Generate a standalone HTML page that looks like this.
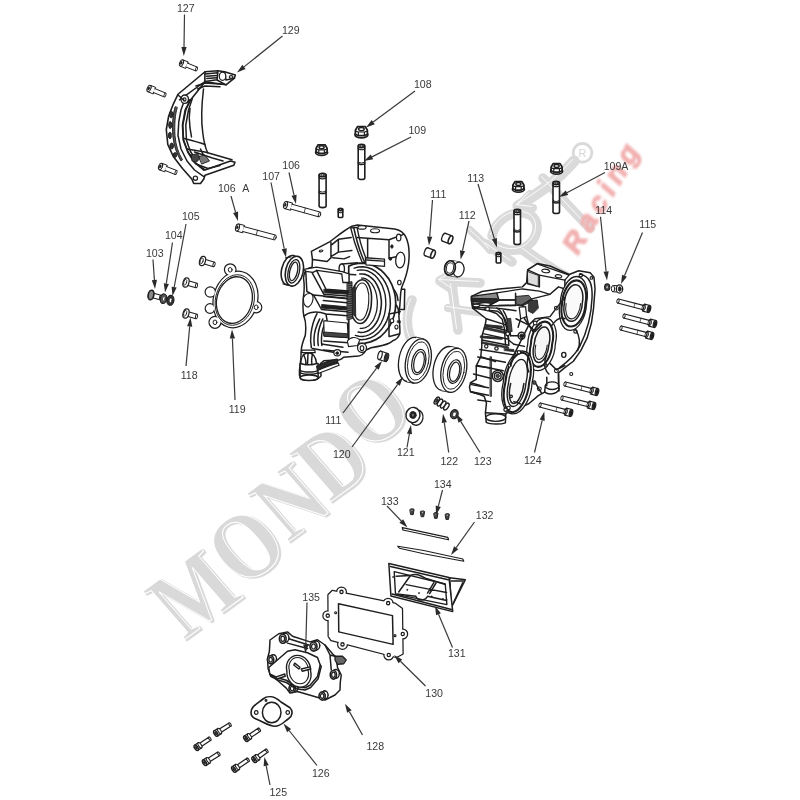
<!DOCTYPE html><html><head><meta charset="utf-8"><style>html,body{margin:0;padding:0;background:#fff;width:800px;height:800px;overflow:hidden}svg{display:block;will-change:transform;filter:blur(0.45px)}</style></head><body>
<svg width="800" height="800" viewBox="0 0 800 800" font-family="'Liberation Sans',sans-serif">
<rect width="800" height="800" fill="#fff"/>
<g font-family="'Liberation Serif',serif" font-weight="bold" font-size="98">
<g fill="#d9d9d9" stroke="#d9d9d9" stroke-width="2" stroke-linejoin="round"><text transform="matrix(0.6634,-0.4820,0.6561,0.7547,185.8,641.2)">M</text><text transform="matrix(0.6634,-0.4820,0.6561,0.7547,243.6,589.4)">O</text><text transform="matrix(0.6634,-0.4820,0.6561,0.7547,289.4,543.4)">N</text><text transform="matrix(0.6634,-0.4820,0.6561,0.7547,331.5,503.4)">D</text><text transform="matrix(0.6634,-0.4820,0.6561,0.7547,368.6,453.4)">O</text></g>
<g fill="none" stroke="#fff" stroke-width="1.1"><text transform="matrix(0.6634,-0.4820,0.6561,0.7547,183.8,640.2)">M</text><text transform="matrix(0.6634,-0.4820,0.6561,0.7547,241.6,588.4)">O</text><text transform="matrix(0.6634,-0.4820,0.6561,0.7547,287.4,542.4)">N</text><text transform="matrix(0.6634,-0.4820,0.6561,0.7547,329.5,502.4)">D</text><text transform="matrix(0.6634,-0.4820,0.6561,0.7547,366.6,452.4)">O</text></g>
</g><g fill="none" stroke-linecap="round" stroke-linejoin="round">
<g stroke="#dadada"><path d="M574,161 C566,170 556,180 545,188 C535,195 526,201 518,206" stroke-width="11.2"/><path d="M518,206 L530,194 M518,206 L533,208" stroke-width="8.0"/><path d="M543,178 C556,192 572,210 590,228" stroke-width="9.6"/><path d="M492,236 C496,218 516,208 530,215 C542,222 538,240 524,248 C515,252 505,250 498,246" stroke-width="9.6"/><path d="M524,250 C540,262 556,272 574,282" stroke-width="11.2"/><path d="M486,244 L512,262" stroke-width="9.6"/><path d="M440,281 L480,283 M440,281 L452,274 M440,281 L452,289" stroke-width="9.6"/><path d="M452,285 C454,300 456,315 458,330" stroke-width="9.6"/><path d="M448,308 L484,313" stroke-width="8.0"/><path d="M412,300 C404,318 406,338 420,352" stroke-width="9.6"/><path d="M470,230 C478,238 486,244 490,250" stroke-width="8.0"/></g><g stroke="#fff"><path d="M574,161 C566,170 556,180 545,188 C535,195 526,201 518,206" stroke-width="0.9" transform="translate(-1.5 -1.5)"/><path d="M518,206 L530,194 M518,206 L533,208" stroke-width="0.9" transform="translate(-1.5 -1.5)"/><path d="M543,178 C556,192 572,210 590,228" stroke-width="0.9" transform="translate(-1.5 -1.5)"/><path d="M492,236 C496,218 516,208 530,215 C542,222 538,240 524,248 C515,252 505,250 498,246" stroke-width="0.9" transform="translate(-1.5 -1.5)"/><path d="M524,250 C540,262 556,272 574,282" stroke-width="0.9" transform="translate(-1.5 -1.5)"/><path d="M486,244 L512,262" stroke-width="0.9" transform="translate(-1.5 -1.5)"/><path d="M440,281 L480,283 M440,281 L452,274 M440,281 L452,289" stroke-width="0.9" transform="translate(-1.5 -1.5)"/><path d="M452,285 C454,300 456,315 458,330" stroke-width="0.9" transform="translate(-1.5 -1.5)"/><path d="M448,308 L484,313" stroke-width="0.9" transform="translate(-1.5 -1.5)"/><path d="M412,300 C404,318 406,338 420,352" stroke-width="0.9" transform="translate(-1.5 -1.5)"/><path d="M470,230 C478,238 486,244 490,250" stroke-width="0.9" transform="translate(-1.5 -1.5)"/></g>
<circle cx="582.5" cy="152.8" r="9.3" stroke="#dadada" stroke-width="2.8"/>
<text x="582.5" y="157" font-family="'Liberation Sans',sans-serif" font-size="11" fill="#d6d6d6" text-anchor="middle">R</text>
</g>
<filter id="rb" x="-20%" y="-20%" width="140%" height="140%"><feGaussianBlur stdDeviation="0.9"/></filter><text filter="url(#rb)" stroke="#f2b0b0" stroke-width="1.2" transform="translate(577 257) rotate(-59) skewX(-10)" font-family="'Liberation Sans',sans-serif" font-weight="bold" font-size="29" fill="#f2b0b0" letter-spacing="5">Racing</text>
<g stroke-linejoin="round" stroke-linecap="round"><path d="M185.3 68.3L180.2 66.2A1.9 3.5 22 0 0 182.8 59.8L187.9 61.8Z" fill="#fff" stroke="#1e1e1e" stroke-width="1.0" /><ellipse cx="181.5" cy="63.0" rx="1.8" ry="3.3" fill="#fff" stroke="#1e1e1e" stroke-width="1.0" transform="rotate(21.80140948635181 181.5 63)"/><ellipse cx="181.2" cy="62.9" rx="0.8" ry="1.6" fill="#1e1e1e" stroke="#1e1e1e" stroke-width="0.6" transform="rotate(21.80140948635181 181.22145699273443 62.88858279709377)"/><path d="M185.8 67.0L195.7 70.9L197.3 67.1L187.4 63.1" fill="#fff" stroke="#1e1e1e" stroke-width="1.0" /><ellipse cx="196.5" cy="69.0" rx="0.9" ry="2.1" fill="#fff" stroke="#1e1e1e" stroke-width="0.9" transform="rotate(21.80140948635181 196.5 69)"/><path d="M152.8 93.8L147.7 91.7A1.9 3.5 22 0 0 150.3 85.3L155.4 87.3Z" fill="#fff" stroke="#1e1e1e" stroke-width="1.0" /><ellipse cx="149.0" cy="88.5" rx="1.8" ry="3.3" fill="#fff" stroke="#1e1e1e" stroke-width="1.0" transform="rotate(22.109448343751673 149 88.5)"/><ellipse cx="148.7" cy="88.4" rx="0.8" ry="1.6" fill="#1e1e1e" stroke="#1e1e1e" stroke-width="0.6" transform="rotate(22.109448343751673 148.72206002686332 88.38708688591322)"/><path d="M153.3 92.5L164.2 96.9L165.8 93.1L154.9 88.6" fill="#fff" stroke="#1e1e1e" stroke-width="1.0" /><ellipse cx="165.0" cy="95.0" rx="0.9" ry="2.1" fill="#fff" stroke="#1e1e1e" stroke-width="0.9" transform="rotate(22.109448343751673 165 95)"/><path d="M164.4 171.7L159.2 169.8A1.9 3.5 21 0 0 161.8 163.2L166.9 165.2Z" fill="#fff" stroke="#1e1e1e" stroke-width="1.0" /><ellipse cx="160.5" cy="166.5" rx="1.8" ry="3.3" fill="#fff" stroke="#1e1e1e" stroke-width="1.0" transform="rotate(21.161259816828277 160.5 166.5)"/><ellipse cx="160.2" cy="166.4" rx="0.8" ry="1.6" fill="#1e1e1e" stroke="#1e1e1e" stroke-width="0.6" transform="rotate(21.161259816828277 160.22022957051777 166.3917017692327)"/><path d="M164.9 170.4L175.2 174.5L176.8 170.5L166.4 166.5" fill="#fff" stroke="#1e1e1e" stroke-width="1.0" /><ellipse cx="176.0" cy="172.5" rx="0.9" ry="2.1" fill="#fff" stroke="#1e1e1e" stroke-width="0.9" transform="rotate(21.161259816828277 176 172.5)"/><ellipse cx="361.4" cy="134.7" rx="6.5" ry="3.2" fill="#fff" stroke="#1e1e1e" stroke-width="1.7"/><path d="M355.4 130.2L357.6 126.5L365.2 126.5L367.4 130.2L367.4 134.2L364.4 135.7L358.4 135.7L355.4 134.2Z" fill="#fff" stroke="#1e1e1e" stroke-width="1.7" /><path d="M355.4 131.2L358.4 132.0L364.4 132.0L367.4 131.2M358.4 132.0L358.4 135.7M364.4 132.0L364.4 135.7" fill="none" stroke="#1e1e1e" stroke-width="1.2" /><ellipse cx="361.4" cy="129.1" rx="2.8" ry="1.6" fill="#fff" stroke="#1e1e1e" stroke-width="1.4"/><ellipse cx="321.6" cy="152.4" rx="6.0" ry="3.0" fill="#fff" stroke="#1e1e1e" stroke-width="1.7"/><path d="M316.1 148.2L318.1 144.8L325.1 144.8L327.1 148.2L327.1 151.9L324.4 153.3L318.8 153.3L316.1 151.9Z" fill="#fff" stroke="#1e1e1e" stroke-width="1.7" /><path d="M316.1 149.1L318.8 149.9L324.4 149.9L327.1 149.1M318.8 149.9L318.8 153.3M324.4 149.9L324.4 153.3" fill="none" stroke="#1e1e1e" stroke-width="1.2" /><ellipse cx="321.6" cy="147.2" rx="2.6" ry="1.5" fill="#fff" stroke="#1e1e1e" stroke-width="1.4"/><ellipse cx="518.4" cy="189.2" rx="6.0" ry="3.0" fill="#fff" stroke="#1e1e1e" stroke-width="1.7"/><path d="M512.9 185.0L514.9 181.6L521.9 181.6L523.9 185.0L523.9 188.7L521.2 190.1L515.6 190.1L512.9 188.7Z" fill="#fff" stroke="#1e1e1e" stroke-width="1.7" /><path d="M512.9 185.9L515.6 186.7L521.2 186.7L523.9 185.9M515.6 186.7L515.6 190.1M521.2 186.7L521.2 190.1" fill="none" stroke="#1e1e1e" stroke-width="1.2" /><ellipse cx="518.4" cy="184.0" rx="2.6" ry="1.5" fill="#fff" stroke="#1e1e1e" stroke-width="1.4"/><ellipse cx="556.6" cy="171.2" rx="6.0" ry="3.0" fill="#fff" stroke="#1e1e1e" stroke-width="1.7"/><path d="M551.1 167.0L553.1 163.6L560.1 163.6L562.1 167.0L562.1 170.7L559.4 172.1L553.8 172.1L551.1 170.7Z" fill="#fff" stroke="#1e1e1e" stroke-width="1.7" /><path d="M551.1 167.9L553.8 168.7L559.4 168.7L562.1 167.9M553.8 168.7L553.8 172.1M559.4 168.7L559.4 172.1" fill="none" stroke="#1e1e1e" stroke-width="1.2" /><ellipse cx="556.6" cy="166.0" rx="2.6" ry="1.5" fill="#fff" stroke="#1e1e1e" stroke-width="1.4"/><path d="M358.2 146.0L358.2 178.0A3.2 1.5 0 0 0 364.8 178.0L364.8 146.0" fill="#fff" stroke="#1e1e1e" stroke-width="1.6" /><ellipse cx="361.5" cy="146.0" rx="3.2" ry="1.6" fill="#fff" stroke="#1e1e1e" stroke-width="1.6"/><ellipse cx="361.5" cy="146.0" rx="1.8" ry="0.8" fill="#fff" stroke="#1e1e1e" stroke-width="0.9"/><path d="M358.2 148.2A3.2 1.5 0 0 0 364.8 148.2" fill="none" stroke="#1e1e1e" stroke-width="1.2" /><path d="M358.2 163.0A3.2 1.5 0 0 0 364.8 163.0" fill="none" stroke="#1e1e1e" stroke-width="1.4" /><path d="M358.2 161.5A3.2 1.5 0 0 0 364.8 161.5" fill="none" stroke="#1e1e1e" stroke-width="1.0" /><path d="M319.1 175.0L319.1 206.0A3.5 1.6 0 0 0 326.1 206.0L326.1 175.0" fill="#fff" stroke="#1e1e1e" stroke-width="1.6" /><ellipse cx="322.6" cy="175.0" rx="3.5" ry="1.8" fill="#fff" stroke="#1e1e1e" stroke-width="1.6"/><ellipse cx="322.6" cy="175.0" rx="1.9" ry="0.9" fill="#fff" stroke="#1e1e1e" stroke-width="0.9"/><path d="M319.1 177.2A3.5 1.6 0 0 0 326.1 177.2" fill="none" stroke="#1e1e1e" stroke-width="1.2" /><path d="M319.1 192.0A3.5 1.6 0 0 0 326.1 192.0" fill="none" stroke="#1e1e1e" stroke-width="1.4" /><path d="M319.1 190.5A3.5 1.6 0 0 0 326.1 190.5" fill="none" stroke="#1e1e1e" stroke-width="1.0" /><path d="M514.0 211.0L514.0 243.0A3.2 1.5 0 0 0 520.5 243.0L520.5 211.0" fill="#fff" stroke="#1e1e1e" stroke-width="1.6" /><ellipse cx="517.3" cy="211.0" rx="3.2" ry="1.6" fill="#fff" stroke="#1e1e1e" stroke-width="1.6"/><ellipse cx="517.3" cy="211.0" rx="1.8" ry="0.8" fill="#fff" stroke="#1e1e1e" stroke-width="0.9"/><path d="M514.0 213.2A3.2 1.5 0 0 0 520.5 213.2" fill="none" stroke="#1e1e1e" stroke-width="1.2" /><path d="M514.0 230.5A3.2 1.5 0 0 0 520.5 230.5" fill="none" stroke="#1e1e1e" stroke-width="1.4" /><path d="M514.0 229.0A3.2 1.5 0 0 0 520.5 229.0" fill="none" stroke="#1e1e1e" stroke-width="1.0" /><path d="M553.0 183.0L553.0 212.0A3.2 1.5 0 0 0 559.5 212.0L559.5 183.0" fill="#fff" stroke="#1e1e1e" stroke-width="1.6" /><ellipse cx="556.2" cy="183.0" rx="3.2" ry="1.6" fill="#fff" stroke="#1e1e1e" stroke-width="1.6"/><ellipse cx="556.2" cy="183.0" rx="1.8" ry="0.8" fill="#fff" stroke="#1e1e1e" stroke-width="0.9"/><path d="M553.0 185.2A3.2 1.5 0 0 0 559.5 185.2" fill="none" stroke="#1e1e1e" stroke-width="1.2" /><path d="M553.0 201.5A3.2 1.5 0 0 0 559.5 201.5" fill="none" stroke="#1e1e1e" stroke-width="1.4" /><path d="M553.0 200.0A3.2 1.5 0 0 0 559.5 200.0" fill="none" stroke="#1e1e1e" stroke-width="1.0" /><path d="M338.2 209.5L338.2 216.5A2.2 1.0 0 0 0 342.8 216.5L342.8 209.5" fill="#fff" stroke="#1e1e1e" stroke-width="1.6" /><ellipse cx="340.5" cy="209.5" rx="2.2" ry="1.1" fill="#fff" stroke="#1e1e1e" stroke-width="1.6"/><ellipse cx="340.5" cy="209.5" rx="1.2" ry="0.6" fill="#fff" stroke="#1e1e1e" stroke-width="0.9"/><path d="M338.2 211.7A2.2 1.0 0 0 0 342.8 211.7" fill="none" stroke="#1e1e1e" stroke-width="1.2" /><path d="M496.2 253.5L496.2 262.0A2.2 1.0 0 0 0 500.8 262.0L500.8 253.5" fill="#fff" stroke="#1e1e1e" stroke-width="1.6" /><ellipse cx="498.5" cy="253.5" rx="2.2" ry="1.1" fill="#fff" stroke="#1e1e1e" stroke-width="1.6"/><ellipse cx="498.5" cy="253.5" rx="1.2" ry="0.6" fill="#fff" stroke="#1e1e1e" stroke-width="0.9"/><path d="M496.2 255.7A2.2 1.0 0 0 0 500.8 255.7" fill="none" stroke="#1e1e1e" stroke-width="1.2" /><path d="M290.3 210.2L284.5 208.6A2.1 3.8 16 0 0 286.5 201.4L292.3 203.0Z" fill="#fff" stroke="#1e1e1e" stroke-width="1.0" /><ellipse cx="285.5" cy="205.0" rx="1.9" ry="3.6" fill="#fff" stroke="#1e1e1e" stroke-width="1.0" transform="rotate(15.610988533679656 285.5 205)"/><ellipse cx="285.2" cy="204.9" rx="0.8" ry="1.7" fill="#1e1e1e" stroke="#1e1e1e" stroke-width="0.6" transform="rotate(15.610988533679656 285.21106670779915 204.9192686389439)"/><path d="M290.6 209.0L318.8 216.9L320.2 212.1L292.0 204.2" fill="#fff" stroke="#1e1e1e" stroke-width="1.0" /><ellipse cx="319.5" cy="214.5" rx="1.1" ry="2.5" fill="#fff" stroke="#1e1e1e" stroke-width="0.9" transform="rotate(15.610988533679656 319.5 214.5)"/><path d="M304.1 212.8L305.4 208.0" fill="none" stroke="#1e1e1e" stroke-width="0.8" /><path d="M242.3 232.7L236.5 231.1A2.1 3.8 15 0 0 238.5 223.9L244.3 225.4Z" fill="#fff" stroke="#1e1e1e" stroke-width="1.0" /><ellipse cx="237.5" cy="227.5" rx="1.9" ry="3.6" fill="#fff" stroke="#1e1e1e" stroke-width="1.0" transform="rotate(14.931417178137552 237.5 227.5)"/><ellipse cx="237.2" cy="227.4" rx="0.8" ry="1.7" fill="#1e1e1e" stroke="#1e1e1e" stroke-width="0.6" transform="rotate(14.931417178137552 237.21012951811963 227.4227012048319)"/><path d="M242.7 231.5L274.4 239.9L275.6 235.1L243.9 226.6" fill="#fff" stroke="#1e1e1e" stroke-width="1.0" /><ellipse cx="275.0" cy="237.5" rx="1.1" ry="2.5" fill="#fff" stroke="#1e1e1e" stroke-width="0.9" transform="rotate(14.931417178137552 275 237.5)"/><path d="M256.2 235.1L257.5 230.2" fill="none" stroke="#1e1e1e" stroke-width="0.8" /><ellipse cx="426.5" cy="251.8" rx="1.9" ry="4.2" fill="#fff" stroke="#1e1e1e" stroke-width="1.3" transform="rotate(-158.96248897457818 426.5 251.8)"/><path d="M434.5 250.4L428.0 247.9L425.0 255.7L431.5 258.2Z" fill="#fff" stroke="none"/><path d="M434.5 250.4L428.0 247.9M431.5 258.2L425.0 255.7" fill="none" stroke="#1e1e1e" stroke-width="1.3" /><ellipse cx="433.0" cy="254.3" rx="1.9" ry="4.2" fill="#fff" stroke="#1e1e1e" stroke-width="1.56" transform="rotate(-158.96248897457818 433 254.3)"/><ellipse cx="444.0" cy="237.3" rx="1.9" ry="4.2" fill="#fff" stroke="#1e1e1e" stroke-width="1.3" transform="rotate(-158.96248897457818 444 237.3)"/><path d="M452.0 235.9L445.5 233.4L442.5 241.2L449.0 243.7Z" fill="#fff" stroke="none"/><path d="M452.0 235.9L445.5 233.4M449.0 243.7L442.5 241.2" fill="none" stroke="#1e1e1e" stroke-width="1.3" /><ellipse cx="450.5" cy="239.8" rx="1.9" ry="4.2" fill="#fff" stroke="#1e1e1e" stroke-width="1.56" transform="rotate(-158.96248897457818 450.5 239.8)"/><path d="M150.4 297.2L159.9 299.7L161.1 295.3L151.6 292.8" fill="#fff" stroke="#1e1e1e" stroke-width="1.1" /><ellipse cx="160.5" cy="297.5" rx="1.0" ry="2.2" fill="#fff" stroke="#1e1e1e" stroke-width="1.0" transform="rotate(14.743562836470735 160.5 297.5)"/><ellipse cx="151.0" cy="295.0" rx="3.0" ry="5.0" fill="#fff" stroke="#1e1e1e" stroke-width="1.2" transform="rotate(14.743562836470735 151 295)"/><ellipse cx="150.2" cy="294.8" rx="1.5" ry="3.2" fill="none" stroke="#1e1e1e" stroke-width="0.8" transform="rotate(14.743562836470735 150.2263403701899 294.7964053605763)"/><ellipse cx="151.0" cy="295.0" rx="2.5" ry="4.5" fill="#888" stroke="#1e1e1e" stroke-width="1.0" transform="rotate(10 151 295)"/><ellipse cx="163.5" cy="298.7" rx="3.2" ry="4.8" fill="#555" stroke="#1e1e1e" stroke-width="1.2" transform="rotate(10 163.5 298.7)"/><ellipse cx="163.8" cy="298.7" rx="1.2" ry="2.2" fill="#fff" stroke="#1e1e1e" stroke-width="0.6" transform="rotate(10 163.8 298.7)"/><ellipse cx="170.4" cy="300.3" rx="3.5" ry="5.0" fill="#333" stroke="#1e1e1e" stroke-width="1.2" transform="rotate(10 170.4 300.3)"/><ellipse cx="170.6" cy="300.3" rx="1.4" ry="2.4" fill="#fff" stroke="#1e1e1e" stroke-width="0.6" transform="rotate(10 170.6 300.3)"/><path d="M201.8 263.2L213.3 266.7L214.7 262.3L203.2 258.8" fill="#fff" stroke="#1e1e1e" stroke-width="1.1" /><ellipse cx="214.0" cy="264.5" rx="1.0" ry="2.2" fill="#fff" stroke="#1e1e1e" stroke-width="1.0" transform="rotate(16.927513064147043 214 264.5)"/><ellipse cx="202.5" cy="261.0" rx="2.9" ry="4.8" fill="#fff" stroke="#1e1e1e" stroke-width="1.2" transform="rotate(16.927513064147043 202.5 261)"/><ellipse cx="201.7" cy="260.8" rx="1.4" ry="3.0" fill="none" stroke="#1e1e1e" stroke-width="0.8" transform="rotate(16.927513064147043 201.7346608956569 260.7670707073738)"/><path d="M185.4 284.7L195.9 287.7L197.1 283.3L186.6 280.3" fill="#fff" stroke="#1e1e1e" stroke-width="1.1" /><ellipse cx="196.5" cy="285.5" rx="1.0" ry="2.2" fill="#fff" stroke="#1e1e1e" stroke-width="1.0" transform="rotate(15.945395900922858 196.5 285.5)"/><ellipse cx="186.0" cy="282.5" rx="2.9" ry="4.8" fill="#fff" stroke="#1e1e1e" stroke-width="1.2" transform="rotate(15.945395900922858 186 282.5)"/><ellipse cx="185.2" cy="282.3" rx="1.4" ry="3.0" fill="none" stroke="#1e1e1e" stroke-width="0.8" transform="rotate(15.945395900922858 185.23078084188734 282.2802230976821)"/><path d="M185.4 315.7L195.9 318.7L197.1 314.3L186.6 311.3" fill="#fff" stroke="#1e1e1e" stroke-width="1.1" /><ellipse cx="196.5" cy="316.5" rx="1.0" ry="2.2" fill="#fff" stroke="#1e1e1e" stroke-width="1.0" transform="rotate(15.945395900922858 196.5 316.5)"/><ellipse cx="186.0" cy="313.5" rx="2.9" ry="4.8" fill="#fff" stroke="#1e1e1e" stroke-width="1.2" transform="rotate(15.945395900922858 186 313.5)"/><ellipse cx="185.2" cy="313.3" rx="1.4" ry="3.0" fill="none" stroke="#1e1e1e" stroke-width="0.8" transform="rotate(15.945395900922858 185.23078084188734 313.2802230976821)"/><g stroke="#1e1e1e" stroke-width="2.4" fill="#1e1e1e"><ellipse cx="235.5" cy="299.5" rx="21.5" ry="28" transform="rotate(14 235.5 299.5)"/><circle cx="230.2" cy="269.6" r="5.2"/><circle cx="256.2" cy="307.3" r="5"/><circle cx="215" cy="322.3" r="5.4"/><circle cx="210.3" cy="292" r="4.6"/><circle cx="210" cy="308.5" r="4.2"/></g><g stroke="none" fill="#fff"><ellipse cx="235.5" cy="299.5" rx="21.5" ry="28" transform="rotate(14 235.5 299.5)"/><circle cx="230.2" cy="269.6" r="5.2"/><circle cx="256.2" cy="307.3" r="5"/><circle cx="215" cy="322.3" r="5.4"/><circle cx="210.3" cy="292" r="4.6"/><circle cx="210" cy="308.5" r="4.2"/></g><ellipse cx="234.4" cy="300.1" rx="17.6" ry="23.6" fill="#fff" stroke="#1e1e1e" stroke-width="1.3" transform="rotate(14 234.4 300.1)"/><ellipse cx="234.8" cy="300.0" rx="19.3" ry="25.6" fill="none" stroke="#1e1e1e" stroke-width="0.9" transform="rotate(14 234.8 300.0)"/><ellipse cx="230.2" cy="269.8" rx="1.9" ry="2.3" fill="none" stroke="#1e1e1e" stroke-width="1.0"/><ellipse cx="256.2" cy="307.3" rx="1.9" ry="2.3" fill="none" stroke="#1e1e1e" stroke-width="1.0"/><ellipse cx="215.0" cy="322.3" rx="1.9" ry="2.3" fill="none" stroke="#1e1e1e" stroke-width="1.0"/><ellipse cx="290.2" cy="270.2" rx="8.6" ry="15.0" fill="#fff" stroke="#1e1e1e" stroke-width="1.6" transform="rotate(13 290.2 270.2)"/><ellipse cx="294.4" cy="271.2" rx="8.8" ry="15.2" fill="#fff" stroke="#1e1e1e" stroke-width="1.6" transform="rotate(13 294.4 271.2)"/><path d="M285.6,257.8 L290.5,256.8 M283,284 L289.5,285.5" fill="none" stroke="#1e1e1e" stroke-width="1.2" /><ellipse cx="293.8" cy="271.3" rx="5.6" ry="12.0" fill="#fff" stroke="#1e1e1e" stroke-width="1.3" transform="rotate(13 293.8 271.3)"/><ellipse cx="293.6" cy="271.4" rx="3.8" ry="9.4" fill="#fff" stroke="#1e1e1e" stroke-width="1.3" transform="rotate(13 293.6 271.4)"/><g transform="translate(290 215) scale(0.22502)"><path d="M95,162 L178,118 C205,98 240,68 275,50 L300,44 L465,62 C490,66 505,78 515,98 C528,125 532,170 527,215 C522,255 510,290 497,320 L492,345 C490,380 487,420 484,450 C486,480 490,500 488,525 C484,545 470,555 455,560 L440,570 C420,580 390,585 360,590 L338,600 C328,620 312,630 290,628 L238,632 C226,646 205,648 185,645 L150,648 L135,660 L138,715 C130,728 110,732 90,732 C65,732 45,725 42,712 L42,690 L48,640 L50,600 C52,575 60,555 68,535 C72,500 70,470 62,450 C55,420 57,390 60,360 C65,330 63,300 60,280 C62,260 68,245 80,238 L98,232 L100,198 Z" fill="#fff" stroke="#1e1e1e" stroke-width="1.4949999999999999" vector-effect="non-scaling-stroke"/><path d="M261,227 L285,218 L309,214 L334,215 L358,220 L381,230 L403,244 L422,263 L439,284 L452,308 L462,335 L468,363 L470,392 L468,421 L462,449 L452,476 L439,500 L422,521 L403,540 L381,554 L358,564 L334,569 L309,570 L285,566 L261,557 Z" fill="#fff" stroke="#1e1e1e" stroke-width="1.7249999999999999" vector-effect="non-scaling-stroke"/><path d="M285,236 L304,231 L324,230 L344,233 L363,240 L381,251 L397,265 L412,282 L424,301 L434,323 L441,347 L445,371 L446,396 L444,421 L439,445 L431,468 L420,489 L407,508 L392,524 L375,537 L356,547 L337,552 L317,554 L298,552 L278,546" fill="none" stroke="#1e1e1e" stroke-width="1.4949999999999999" vector-effect="non-scaling-stroke"/><path d="M299,246 L315,244 L331,245 L347,249 L362,257 L376,267 L389,281 L400,296 L410,314 L417,334 L423,355 L425,376 L426,398 L424,420 L420,442 L413,462 L405,480 L394,497 L382,511 L368,523 L353,532 L338,537 L322,540 L306,539 L290,535" fill="none" stroke="#1e1e1e" stroke-width="1.38" vector-effect="non-scaling-stroke"/><path d="M310,262 L323,262 L335,264 L347,269 L359,277 L369,286 L379,298 L387,312 L394,327 L400,344 L403,361 L406,379 L406,398 L404,416 L401,434 L396,451 L390,467 L382,481 L373,493 L363,504 L352,512 L340,518 L328,521 L315,522 L303,520" fill="none" stroke="#1e1e1e" stroke-width="1.6099999999999999" vector-effect="non-scaling-stroke"/><path d="M318,280 L327,281 L337,284 L345,289 L354,296 L362,304 L369,315 L375,326 L380,339 L384,353 L386,367 L388,382 L388,397 L387,412 L385,426 L381,440 L376,454 L371,466 L364,476 L357,485 L349,493 L340,498 L331,502 L321,504 L312,504" fill="none" stroke="#1e1e1e" stroke-width="1.265" vector-effect="non-scaling-stroke"/><path d="M270,385 a46,92 4 1,0 92,0 a46,92 4 1,0 -92,0" fill="#fff" stroke="#1e1e1e" stroke-width="1.6099999999999999" vector-effect="non-scaling-stroke"/><path d="M282,385 a34,78 4 1,0 68,0 a34,78 4 1,0 -68,0" fill="#fff" stroke="#1e1e1e" stroke-width="1.15" vector-effect="non-scaling-stroke"/><path d="M272,330 L290,318 L292,452 L276,440 Z" fill="#333" stroke="#1e1e1e" stroke-width="0.9199999999999999" vector-effect="non-scaling-stroke"/><path d="M255,300 L275,296 L278,460 L255,466 Z" fill="#666" stroke="#1e1e1e" stroke-width="0.9199999999999999" vector-effect="non-scaling-stroke"/><path d="M256,305 L276,302" fill="none" stroke="#1e1e1e" stroke-width="0.9199999999999999" vector-effect="non-scaling-stroke"/><path d="M256,315 L276,312" fill="none" stroke="#1e1e1e" stroke-width="0.9199999999999999" vector-effect="non-scaling-stroke"/><path d="M256,325 L276,322" fill="none" stroke="#1e1e1e" stroke-width="0.9199999999999999" vector-effect="non-scaling-stroke"/><path d="M256,335 L276,332" fill="none" stroke="#1e1e1e" stroke-width="0.9199999999999999" vector-effect="non-scaling-stroke"/><path d="M256,345 L276,342" fill="none" stroke="#1e1e1e" stroke-width="0.9199999999999999" vector-effect="non-scaling-stroke"/><path d="M256,355 L276,352" fill="none" stroke="#1e1e1e" stroke-width="0.9199999999999999" vector-effect="non-scaling-stroke"/><path d="M256,365 L276,362" fill="none" stroke="#1e1e1e" stroke-width="0.9199999999999999" vector-effect="non-scaling-stroke"/><path d="M256,375 L276,372" fill="none" stroke="#1e1e1e" stroke-width="0.9199999999999999" vector-effect="non-scaling-stroke"/><path d="M256,385 L276,382" fill="none" stroke="#1e1e1e" stroke-width="0.9199999999999999" vector-effect="non-scaling-stroke"/><path d="M256,395 L276,392" fill="none" stroke="#1e1e1e" stroke-width="0.9199999999999999" vector-effect="non-scaling-stroke"/><path d="M256,405 L276,402" fill="none" stroke="#1e1e1e" stroke-width="0.9199999999999999" vector-effect="non-scaling-stroke"/><path d="M256,415 L276,412" fill="none" stroke="#1e1e1e" stroke-width="0.9199999999999999" vector-effect="non-scaling-stroke"/><path d="M256,425 L276,422" fill="none" stroke="#1e1e1e" stroke-width="0.9199999999999999" vector-effect="non-scaling-stroke"/><path d="M256,435 L276,432" fill="none" stroke="#1e1e1e" stroke-width="0.9199999999999999" vector-effect="non-scaling-stroke"/><path d="M256,445 L276,442" fill="none" stroke="#1e1e1e" stroke-width="0.9199999999999999" vector-effect="non-scaling-stroke"/><path d="M256,455 L276,452" fill="none" stroke="#1e1e1e" stroke-width="0.9199999999999999" vector-effect="non-scaling-stroke"/><path d="M100,198 L165,207 L182,190" fill="none" stroke="#1e1e1e" stroke-width="1.4949999999999999" vector-effect="non-scaling-stroke"/><path d="M130,160 a8,4 -8 1,0 16,-1 a8,4 -8 1,0 -16,1" fill="#fff" stroke="#1e1e1e" stroke-width="1.15" vector-effect="non-scaling-stroke"/><path d="M182,122 L182,190 M182,135 L215,108 L272,100 M215,108 L215,165 L182,185 M215,165 L275,158" fill="none" stroke="#1e1e1e" stroke-width="1.4949999999999999" vector-effect="non-scaling-stroke"/><path d="M190,190 L240,195 L265,185" fill="none" stroke="#1e1e1e" stroke-width="1.4949999999999999" vector-effect="non-scaling-stroke"/><path d="M270,58 C282,110 298,160 322,212 L345,208 C322,160 308,110 298,55 Z" fill="#fff" stroke="#1e1e1e" stroke-width="1.38" vector-effect="non-scaling-stroke"/><path d="M284,60 C295,110 308,160 332,210" fill="none" stroke="#1e1e1e" stroke-width="1.4949999999999999" vector-effect="non-scaling-stroke"/><path d="M302,55 a18,8 0 1,0 36,0 a18,8 0 1,0 -36,0" fill="#fff" stroke="#1e1e1e" stroke-width="1.15" vector-effect="non-scaling-stroke"/><path d="M358,70 a20,9 0 1,0 40,0 a20,9 0 1,0 -40,0" fill="#fff" stroke="#1e1e1e" stroke-width="1.15" vector-effect="non-scaling-stroke"/><path d="M298,100 L440,110 L440,192 M440,110 L505,86 M440,192 L500,180 M345,105 L345,195" fill="none" stroke="#1e1e1e" stroke-width="1.4949999999999999" vector-effect="non-scaling-stroke"/><path d="M473,100 a10,15 0 1,0 20,0 a10,15 0 1,0 -20,0" fill="#fff" stroke="#1e1e1e" stroke-width="1.15" vector-effect="non-scaling-stroke"/><path d="M470,200 a20,33 5 1,0 40,0 a20,33 5 1,0 -40,0" fill="#fff" stroke="#1e1e1e" stroke-width="1.265" vector-effect="non-scaling-stroke"/><path d="M440,195 a6,6 0 1,0 12,0 a6,6 0 1,0 -12,0" fill="#1e1e1e" stroke="#1e1e1e" stroke-width="0.9199999999999999" vector-effect="non-scaling-stroke"/><path d="M448,140 a5,8 0 1,0 10,0 a5,8 0 1,0 -10,0" fill="#1e1e1e" stroke="#1e1e1e" stroke-width="0.9199999999999999" vector-effect="non-scaling-stroke"/><path d="M335,190 L420,196 L420,228 L338,222 Z" fill="#fff" stroke="#1e1e1e" stroke-width="1.265" vector-effect="non-scaling-stroke"/><path d="M340,200 L415,205" fill="none" stroke="#1e1e1e" stroke-width="1.4949999999999999" vector-effect="non-scaling-stroke"/><path d="M232,218 L300,212 M232,262 L292,266" fill="none" stroke="#1e1e1e" stroke-width="1.4949999999999999" vector-effect="non-scaling-stroke"/><path d="M218,240 a12,22 0 1,0 24,0 a12,22 0 1,0 -24,0" fill="#fff" stroke="#1e1e1e" stroke-width="1.38" vector-effect="non-scaling-stroke"/><path d="M62,242 L118,232 L232,252 L262,262 L262,300 L235,300 L230,262 L120,246 L102,255 L70,250 Z" fill="#fff" stroke="#1e1e1e" stroke-width="1.265" vector-effect="non-scaling-stroke"/><path d="M98,256 L150,352 L255,360 M118,246 L160,330 L262,338" fill="none" stroke="#1e1e1e" stroke-width="1.4949999999999999" vector-effect="non-scaling-stroke"/><path d="M70,250 L75,340 L105,356 L140,420 L255,430 M105,356 L250,370" fill="none" stroke="#1e1e1e" stroke-width="1.4949999999999999" vector-effect="non-scaling-stroke"/><path d="M152,330 L258,340 L258,352 L152,346 Z" fill="#1e1e1e" stroke="#1e1e1e" stroke-width="0.9199999999999999" vector-effect="non-scaling-stroke"/><path d="M142,398 L252,408 L252,422 L142,414 Z" fill="#1e1e1e" stroke="#1e1e1e" stroke-width="0.9199999999999999" vector-effect="non-scaling-stroke"/><path d="M150,362 L255,372 M148,380 L254,390" fill="none" stroke="#1e1e1e" stroke-width="1.4949999999999999" vector-effect="non-scaling-stroke"/><path d="M60,380 C55,360 75,345 95,350 C110,365 100,400 80,410 C65,405 60,395 60,380 Z" fill="#fff" stroke="#1e1e1e" stroke-width="1.15" vector-effect="non-scaling-stroke"/><path d="M62,450 C80,430 120,425 160,440 L255,448 M160,440 L165,470" fill="none" stroke="#1e1e1e" stroke-width="1.4949999999999999" vector-effect="non-scaling-stroke"/><path d="M120,438 C108,460 98,490 93,528 C90,555 92,575 95,590" fill="none" stroke="#1e1e1e" stroke-width="1.4949999999999999" vector-effect="non-scaling-stroke"/><path d="M132,462 C118,490 108,520 107,545 C106,560 107,570 108,580" fill="none" stroke="#1e1e1e" stroke-width="1.4949999999999999" vector-effect="non-scaling-stroke"/><path d="M146,462 C132,490 125,520 124,545 C123,560 124,570 126,580" fill="none" stroke="#1e1e1e" stroke-width="1.4949999999999999" vector-effect="non-scaling-stroke"/><path d="M160,470 C148,495 141,520 140,545 C139,560 140,570 142,580" fill="none" stroke="#1e1e1e" stroke-width="1.4949999999999999" vector-effect="non-scaling-stroke"/><path d="M150,498 L240,508 M150,528 L240,538 M140,573 L235,588 M100,593 L210,613" fill="none" stroke="#1e1e1e" stroke-width="1.4949999999999999" vector-effect="non-scaling-stroke"/><path d="M150,470 L255,480 L258,545 L152,538 Z" fill="#fff" stroke="#1e1e1e" stroke-width="1.15" vector-effect="non-scaling-stroke"/><path d="M150,520 L258,528 L258,545 L152,538 Z" fill="#444" stroke="#1e1e1e" stroke-width="0.9199999999999999" vector-effect="non-scaling-stroke"/><path d="M150,560 L260,568 L300,572 M150,600 L258,610" fill="none" stroke="#1e1e1e" stroke-width="1.4949999999999999" vector-effect="non-scaling-stroke"/><path d="M195,612 a15,14 0 1,0 30,0 a15,14 0 1,0 -30,0" fill="#fff" stroke="#1e1e1e" stroke-width="1.15" vector-effect="non-scaling-stroke"/><path d="M204,614 a6,6 0 1,0 12,0 a6,6 0 1,0 -12,0" fill="#1e1e1e" stroke="#1e1e1e" stroke-width="0.9199999999999999" vector-effect="non-scaling-stroke"/><path d="M300,590 a20,20 0 1,0 40,0 a20,20 0 1,0 -40,0" fill="#fff" stroke="#1e1e1e" stroke-width="1.265" vector-effect="non-scaling-stroke"/><path d="M312,592 a8,11 0 1,0 16,0 a8,11 0 1,0 -16,0" fill="#fff" stroke="#1e1e1e" stroke-width="1.15" vector-effect="non-scaling-stroke"/><path d="M255,560 C270,540 295,540 310,555 L300,580 L260,585 Z" fill="#fff" stroke="#1e1e1e" stroke-width="1.15" vector-effect="non-scaling-stroke"/><path d="M478,300 a8,10 0 1,0 16,0 a8,10 0 1,0 -16,0" fill="#fff" stroke="#1e1e1e" stroke-width="1.15" vector-effect="non-scaling-stroke"/><path d="M445,470 a8,9 0 1,0 16,0 a8,9 0 1,0 -16,0" fill="#fff" stroke="#1e1e1e" stroke-width="1.15" vector-effect="non-scaling-stroke"/><path d="M466,498 a7,9 0 1,0 14,0 a7,9 0 1,0 -14,0" fill="#fff" stroke="#1e1e1e" stroke-width="1.15" vector-effect="non-scaling-stroke"/><path d="M440,440 L490,430 M442,540 L488,528 M440,440 L440,540 M495,330 L510,330 L508,420 L492,420" fill="none" stroke="#1e1e1e" stroke-width="1.4949999999999999" vector-effect="non-scaling-stroke"/><path d="M478,470 L490,470 L490,480 L478,478 Z" fill="#1e1e1e" stroke="#1e1e1e" stroke-width="0.69" vector-effect="non-scaling-stroke"/><path d="M460,330 C470,340 478,360 480,380 M472,400 C480,410 484,420 484,440" fill="none" stroke="#1e1e1e" stroke-width="1.4949999999999999" vector-effect="non-scaling-stroke"/><path d="M45,660 L45,722 C45,740 125,740 125,722 L125,660 Z" fill="#fff" stroke="#1e1e1e" stroke-width="1.4949999999999999" vector-effect="non-scaling-stroke"/><path d="M85,723 m-40,0 a40,12 0 1,0 80,0 a40,12 0 1,0 -80,0" fill="#fff" stroke="#1e1e1e" stroke-width="1.38" vector-effect="non-scaling-stroke"/><path d="M45,690 C60,700 110,700 125,690 M45,700 C60,710 110,710 125,700" fill="none" stroke="#1e1e1e" stroke-width="1.4949999999999999" vector-effect="non-scaling-stroke"/><path d="M48,660 C48,630 60,615 80,612 C100,612 115,630 118,660 C100,668 65,668 48,660 Z" fill="#fff" stroke="#1e1e1e" stroke-width="1.4949999999999999" vector-effect="non-scaling-stroke"/><path d="M80,612 L78,664 M60,620 C70,640 72,655 70,665 M100,618 C95,640 95,655 98,665" fill="none" stroke="#1e1e1e" stroke-width="1.4949999999999999" vector-effect="non-scaling-stroke"/><path d="M50,612 L112,612 L110,600 L55,600 Z" fill="#fff" stroke="#1e1e1e" stroke-width="1.265" vector-effect="non-scaling-stroke"/><path d="M118,672 C150,655 180,645 210,640 L212,655 C185,662 150,675 122,690 Z" fill="#2a2a2a" stroke="#1e1e1e" stroke-width="1.15" vector-effect="non-scaling-stroke"/><path d="M125,690 C150,680 190,665 215,658 L218,668 C190,680 150,695 125,705 Z" fill="#fff" stroke="#1e1e1e" stroke-width="1.15" vector-effect="non-scaling-stroke"/></g><g transform="translate(465 255) scale(0.21249)"><path d="M30,195 L80,172 L160,160 L270,150 L290,130 L295,70 L340,40 L400,52 L490,92 L535,74 L590,84 L607,105 L612,160 L605,250 L595,320 L575,390 L545,450 L510,500 L470,530 L440,555 L442,635 C430,655 395,660 375,645 L345,662 L300,700 L250,722 L212,738 L192,745 L190,790 C170,798 120,798 100,788 L96,744 L101,696 L90,665 L64,654 L26,644 L21,622 L26,601 L53,585 L53,522 L74,479 L79,432 L80,380 L95,330 L100,300 L36,250 L30,215 Z" fill="#fff" stroke="#1e1e1e" stroke-width="1.4949999999999999" vector-effect="non-scaling-stroke"/><path d="M295,70 L340,42 L490,95 L470,118 L350,95 Z" fill="#fff" stroke="#1e1e1e" stroke-width="1.265" vector-effect="non-scaling-stroke"/><path d="M350,95 L350,150 M295,70 L295,135 L350,150 M470,118 L470,160" fill="none" stroke="#1e1e1e" stroke-width="1.4949999999999999" vector-effect="non-scaling-stroke"/><path d="M295,78 L345,96 L345,148 L297,133 Z" fill="#ddd" stroke="#1e1e1e" stroke-width="0.9199999999999999" vector-effect="non-scaling-stroke"/><path d="M362,75 a18,8 8 1,0 36,0 a18,8 8 1,0 -36,0" fill="#fff" stroke="#1e1e1e" stroke-width="1.15" vector-effect="non-scaling-stroke"/><path d="M425,100 a15,7 8 1,0 30,0 a15,7 8 1,0 -30,0" fill="#fff" stroke="#1e1e1e" stroke-width="1.15" vector-effect="non-scaling-stroke"/><path d="M30,195 L150,178 L160,212 L40,232 Z" fill="#8a8a8a" stroke="#1e1e1e" stroke-width="1.265" vector-effect="non-scaling-stroke"/><path d="M150,178 L270,160 L350,170 L400,185 L300,210 L160,212 Z" fill="#fff" stroke="#1e1e1e" stroke-width="1.265" vector-effect="non-scaling-stroke"/><path d="M240,195 L300,190 L320,215 L270,240 L240,230 Z" fill="#666" stroke="#1e1e1e" stroke-width="0.9199999999999999" vector-effect="non-scaling-stroke"/><path d="M40,232 L110,240 L160,212 M110,240 L270,235 L310,210 M36,246 L150,250 L240,262" fill="none" stroke="#1e1e1e" stroke-width="1.4949999999999999" vector-effect="non-scaling-stroke"/><path d="M150,250 C175,260 185,300 195,340 L205,400 L230,420 M180,262 C200,290 208,330 215,380" fill="none" stroke="#1e1e1e" stroke-width="1.4949999999999999" vector-effect="non-scaling-stroke"/><path d="M400,185 L440,150 L470,160 L480,140 M270,235 L280,300 L300,330" fill="none" stroke="#1e1e1e" stroke-width="1.4949999999999999" vector-effect="non-scaling-stroke"/><path d="M448,228 a62,112 10 1,0 124,0 a62,112 10 1,0 -124,0" fill="#fff" stroke="#1e1e1e" stroke-width="1.265" vector-effect="non-scaling-stroke"/><path d="M457,228 a55,96 10 1,0 110,0 a55,96 10 1,0 -110,0" fill="#fff" stroke="#1e1e1e" stroke-width="2.07" vector-effect="non-scaling-stroke"/><path d="M468,226 a42,76 10 1,0 84,0 a42,76 10 1,0 -84,0" fill="#fafafa" stroke="#1e1e1e" stroke-width="1.4949999999999999" vector-effect="non-scaling-stroke"/><path d="M476,228 a34,64 10 1,0 68,0" fill="none" stroke="#1e1e1e" stroke-width="1.035" vector-effect="non-scaling-stroke"/><path d="M295,420 a65,108 12 1,0 130,0 a65,108 12 1,0 -130,0" fill="#fff" stroke="#1e1e1e" stroke-width="1.265" vector-effect="non-scaling-stroke"/><path d="M310,420 a50,92 12 1,0 100,0 a50,92 12 1,0 -100,0" fill="#fff" stroke="#1e1e1e" stroke-width="2.07" vector-effect="non-scaling-stroke"/><path d="M325,422 a35,72 12 1,0 70,0 a35,72 12 1,0 -70,0" fill="#f6f6f6" stroke="#1e1e1e" stroke-width="1.4949999999999999" vector-effect="non-scaling-stroke"/><path d="M333,424 a27,58 12 1,0 54,0" fill="none" stroke="#1e1e1e" stroke-width="1.035" vector-effect="non-scaling-stroke"/><path d="M180,600 a68,128 12 1,0 136,0 a68,128 12 1,0 -136,0" fill="#fff" stroke="#1e1e1e" stroke-width="1.265" vector-effect="non-scaling-stroke"/><path d="M190,600 a56,120 12 1,0 112,0 a56,120 12 1,0 -112,0" fill="#fff" stroke="#1e1e1e" stroke-width="2.07" vector-effect="non-scaling-stroke"/><path d="M205,602 a41,95 12 1,0 82,0 a41,95 12 1,0 -82,0" fill="#fafafa" stroke="#1e1e1e" stroke-width="1.38" vector-effect="non-scaling-stroke"/><path d="M215,605 a31,80 12 1,0 62,0" fill="none" stroke="#1e1e1e" stroke-width="1.4949999999999999" vector-effect="non-scaling-stroke"/><path d="M321,320 a9,9 0 1,0 18,0 a9,9 0 1,0 -18,0" fill="#fff" stroke="#1e1e1e" stroke-width="1.15" vector-effect="non-scaling-stroke"/><path d="M421,250 a9,9 0 1,0 18,0 a9,9 0 1,0 -18,0" fill="#fff" stroke="#1e1e1e" stroke-width="1.15" vector-effect="non-scaling-stroke"/><path d="M512,360 a8,8 0 1,0 16,0 a8,8 0 1,0 -16,0" fill="#fff" stroke="#1e1e1e" stroke-width="1.15" vector-effect="non-scaling-stroke"/><path d="M421,545 a9,9 0 1,0 18,0 a9,9 0 1,0 -18,0" fill="#fff" stroke="#1e1e1e" stroke-width="1.15" vector-effect="non-scaling-stroke"/><path d="M341,630 a9,9 0 1,0 18,0 a9,9 0 1,0 -18,0" fill="#fff" stroke="#1e1e1e" stroke-width="1.15" vector-effect="non-scaling-stroke"/><path d="M197,720 a8,8 0 1,0 16,0 a8,8 0 1,0 -16,0" fill="#fff" stroke="#1e1e1e" stroke-width="1.15" vector-effect="non-scaling-stroke"/><path d="M92,430 a8,8 0 1,0 16,0 a8,8 0 1,0 -16,0" fill="#fff" stroke="#1e1e1e" stroke-width="1.15" vector-effect="non-scaling-stroke"/><path d="M237,460 a8,8 0 1,0 16,0 a8,8 0 1,0 -16,0" fill="#fff" stroke="#1e1e1e" stroke-width="1.15" vector-effect="non-scaling-stroke"/><path d="M537,95 a8,8 0 1,0 16,0 a8,8 0 1,0 -16,0" fill="#fff" stroke="#1e1e1e" stroke-width="1.15" vector-effect="non-scaling-stroke"/><path d="M589,108 a6,6 0 1,0 12,0 a6,6 0 1,0 -12,0" fill="#fff" stroke="#1e1e1e" stroke-width="1.15" vector-effect="non-scaling-stroke"/><path d="M203,520 a7,7 0 1,0 14,0 a7,7 0 1,0 -14,0" fill="#fff" stroke="#1e1e1e" stroke-width="1.15" vector-effect="non-scaling-stroke"/><path d="M493,560 a7,7 0 1,0 14,0 a7,7 0 1,0 -14,0" fill="#fff" stroke="#1e1e1e" stroke-width="1.15" vector-effect="non-scaling-stroke"/><path d="M250,380 a16,16 0 1,0 32,0 a16,16 0 1,0 -32,0" fill="#fff" stroke="#1e1e1e" stroke-width="1.4949999999999999" vector-effect="non-scaling-stroke"/><path d="M258,381 a8,9 0 1,0 16,0 a8,9 0 1,0 -16,0" fill="#1e1e1e" stroke="#1e1e1e" stroke-width="0.9199999999999999" vector-effect="non-scaling-stroke"/><path d="M100,300 L195,330 M95,330 L195,355 M85,370 L200,395 M80,400 L205,425 M70,445 L230,470 M60,480 L190,505 M58,520 L180,545" fill="none" stroke="#1e1e1e" stroke-width="1.4949999999999999" vector-effect="non-scaling-stroke"/><path d="M92,338 L196,362 L198,372 L90,348 Z" fill="#333" stroke="#1e1e1e" stroke-width="0.69" vector-effect="non-scaling-stroke"/><path d="M80,408 L204,432 L206,440 L80,416 Z" fill="#333" stroke="#1e1e1e" stroke-width="0.69" vector-effect="non-scaling-stroke"/><path d="M40,560 L120,580 M30,610 L110,625 M35,645 L110,660 M60,682 L120,690" fill="none" stroke="#1e1e1e" stroke-width="1.4949999999999999" vector-effect="non-scaling-stroke"/><path d="M98,765 a47,18 0 1,0 94,0 a47,18 0 1,0 -94,0" fill="#fff" stroke="#1e1e1e" stroke-width="1.38" vector-effect="non-scaling-stroke"/><path d="M98,742 L192,748" fill="none" stroke="#1e1e1e" stroke-width="1.4949999999999999" vector-effect="non-scaling-stroke"/><path d="M378,615 a32,18 0 1,0 64,0 a32,18 0 1,0 -64,0" fill="#fff" stroke="#1e1e1e" stroke-width="1.265" vector-effect="non-scaling-stroke"/><path d="M378,615 L375,645 M442,615 L442,640 M385,575 L385,615 M440,560 L440,615" fill="none" stroke="#1e1e1e" stroke-width="1.4949999999999999" vector-effect="non-scaling-stroke"/><path d="M540,90 C590,100 600,140 598,200 C595,280 575,360 540,430 C515,475 480,505 445,530" fill="none" stroke="#1e1e1e" stroke-width="1.4949999999999999" vector-effect="non-scaling-stroke"/><path d="M300,330 L330,300 L400,290 L430,250 L470,200 M300,330 L250,430 L230,470 L215,520" fill="none" stroke="#1e1e1e" stroke-width="1.4949999999999999" vector-effect="non-scaling-stroke"/><path d="M400,510 L430,540 L470,520 M360,650 L330,600 M230,690 L260,700" fill="none" stroke="#1e1e1e" stroke-width="1.4949999999999999" vector-effect="non-scaling-stroke"/><path d="M29,204 L32,217 L127,228 L154,217 L150,206 Z" fill="#2a2a2a" stroke="#1e1e1e" stroke-width="1.15" vector-effect="non-scaling-stroke"/><path d="M34,228 L37,249 L95,259 L154,265 L175,281 L191,307 L201,344 L204,371 L206,424" fill="none" stroke="#1e1e1e" stroke-width="1.4949999999999999" vector-effect="non-scaling-stroke"/><path d="M90,254 L148,275 L175,302 L185,344 L191,424" fill="none" stroke="#1e1e1e" stroke-width="1.4949999999999999" vector-effect="non-scaling-stroke"/><path d="M37,238 a16,6 0 1,0 32,0 a16,6 0 1,0 -32,0" fill="#fff" stroke="#1e1e1e" stroke-width="1.15" vector-effect="non-scaling-stroke"/><path d="M97,254 a9,9 0 1,0 18,0 a9,9 0 1,0 -18,0" fill="#fff" stroke="#1e1e1e" stroke-width="1.15" vector-effect="non-scaling-stroke"/><path d="M100,328 L175,335 L175,344 L100,338 Z" fill="#333" stroke="#1e1e1e" stroke-width="0.9199999999999999" vector-effect="non-scaling-stroke"/><path d="M74,381 L175,390 L175,397 L74,389 Z" fill="#333" stroke="#1e1e1e" stroke-width="0.9199999999999999" vector-effect="non-scaling-stroke"/><path d="M74,479 L143,501 M53,522 L122,532 M26,601 L64,612 L90,620 M26,644 L64,654" fill="none" stroke="#1e1e1e" stroke-width="1.4949999999999999" vector-effect="non-scaling-stroke"/><path d="M119,479 L125,479 L125,665 L119,665 Z" fill="#2a2a2a" stroke="#1e1e1e" stroke-width="0.69" vector-effect="non-scaling-stroke"/><path d="M128,569 a26,26 0 1,0 52,0 a26,26 0 1,0 -52,0" fill="#fff" stroke="#1e1e1e" stroke-width="1.4949999999999999" vector-effect="non-scaling-stroke"/><path d="M138,569 a16,16 0 1,0 32,0 a16,16 0 1,0 -32,0" fill="#fff" stroke="#1e1e1e" stroke-width="1.38" vector-effect="non-scaling-stroke"/><path d="M146,569 a8,8 0 1,0 16,0 a8,8 0 1,0 -16,0" fill="#555" stroke="#1e1e1e" stroke-width="0.9199999999999999" vector-effect="non-scaling-stroke"/><path d="M140,440 a8,8 0 1,0 16,0 a8,8 0 1,0 -16,0" fill="#fff" stroke="#1e1e1e" stroke-width="1.265" vector-effect="non-scaling-stroke"/><path d="M246,458 a8,8 0 1,0 16,0 a8,8 0 1,0 -16,0" fill="#fff" stroke="#1e1e1e" stroke-width="1.265" vector-effect="non-scaling-stroke"/><path d="M183,728 a8,8 0 1,0 16,0 a8,8 0 1,0 -16,0" fill="#fff" stroke="#1e1e1e" stroke-width="1.265" vector-effect="non-scaling-stroke"/><path d="M211,665 a6,6 0 1,0 12,0 a6,6 0 1,0 -12,0" fill="#fff" stroke="#1e1e1e" stroke-width="1.265" vector-effect="non-scaling-stroke"/><path d="M192,371 a9,9 0 1,0 18,0 a9,9 0 1,0 -18,0" fill="#fff" stroke="#1e1e1e" stroke-width="1.265" vector-effect="non-scaling-stroke"/><path d="M159,212 L238,212 L238,238 L159,238 M238,212 L238,180 M300,330 L330,360 L360,330 M240,300 L300,330" fill="none" stroke="#1e1e1e" stroke-width="1.4949999999999999" vector-effect="non-scaling-stroke"/><path d="M300,215 L340,212 L345,250 L320,275 L300,265 Z" fill="#3a3a3a" stroke="#1e1e1e" stroke-width="0.9199999999999999" vector-effect="non-scaling-stroke"/><path d="M255,245 L285,243 L290,290 L262,300 Z" fill="#fff" stroke="#1e1e1e" stroke-width="1.265" vector-effect="non-scaling-stroke"/><path d="M262,300 L250,340 M290,290 L300,330 M215,380 L250,380 M300,330 L320,360 M230,420 L280,430" fill="none" stroke="#1e1e1e" stroke-width="1.4949999999999999" vector-effect="non-scaling-stroke"/><path d="M200,300 L215,298 L222,360 L206,362 Z" fill="#444" stroke="#1e1e1e" stroke-width="0.8049999999999999" vector-effect="non-scaling-stroke"/><path d="M185,440 L230,445 L232,455 L186,450 Z" fill="#333" stroke="#1e1e1e" stroke-width="0.69" vector-effect="non-scaling-stroke"/><path d="M385,470 C370,500 372,540 395,560 M300,470 C290,500 292,530 300,550" fill="none" stroke="#1e1e1e" stroke-width="1.4949999999999999" vector-effect="non-scaling-stroke"/><path d="M410,330 C430,300 450,290 470,300 M520,350 C540,380 545,420 530,450" fill="none" stroke="#1e1e1e" stroke-width="1.4949999999999999" vector-effect="non-scaling-stroke"/><path d="M455,470 a10,12 0 1,0 20,0 a10,12 0 1,0 -20,0" fill="#fff" stroke="#1e1e1e" stroke-width="1.38" vector-effect="non-scaling-stroke"/><path d="M372,520 a8,9 0 1,0 16,0 a8,9 0 1,0 -16,0" fill="#555" stroke="#1e1e1e" stroke-width="0.9199999999999999" vector-effect="non-scaling-stroke"/><path d="M318,600 a8,9 0 1,0 16,0 a8,9 0 1,0 -16,0" fill="#555" stroke="#1e1e1e" stroke-width="0.9199999999999999" vector-effect="non-scaling-stroke"/></g><ellipse cx="411.5" cy="359.5" rx="12.5" ry="22.5" fill="#fff" stroke="#1e1e1e" stroke-width="1.3" transform="rotate(12 411.5 359.5)"/><path d="M416.2 337.5L423.0 339.0M406.8 381.5L413.6 383.0" fill="none" stroke="#1e1e1e" stroke-width="1.3" /><path d="M416.2 337.5L423.0 339.0L413.6 383.0L406.8 381.5Z" fill="#fff" stroke="none"/><ellipse cx="418.3" cy="361.0" rx="12.5" ry="22.5" fill="#fff" stroke="#1e1e1e" stroke-width="1.3" transform="rotate(12 418.3 361)"/><ellipse cx="418.3" cy="361.0" rx="10.3" ry="19.5" fill="none" stroke="#1e1e1e" stroke-width="0.9" transform="rotate(12 418.3 361)"/><ellipse cx="418.8" cy="362.0" rx="6.8" ry="12.8" fill="#fff" stroke="#1e1e1e" stroke-width="1.2" transform="rotate(12 418.8 362)"/><ellipse cx="419.0" cy="362.2" rx="5.0" ry="10.6" fill="#fff" stroke="#1e1e1e" stroke-width="1.2" transform="rotate(12 419.0 362.2)"/><ellipse cx="446.0" cy="368.5" rx="12.5" ry="22.3" fill="#fff" stroke="#1e1e1e" stroke-width="1.3" transform="rotate(12 446 368.5)"/><path d="M450.6 346.7L458.4 348.5M441.4 390.3L449.2 392.1" fill="none" stroke="#1e1e1e" stroke-width="1.3" /><path d="M450.6 346.7L458.4 348.5L449.2 392.1L441.4 390.3Z" fill="#fff" stroke="none"/><ellipse cx="453.8" cy="370.3" rx="12.5" ry="22.3" fill="#fff" stroke="#1e1e1e" stroke-width="1.3" transform="rotate(12 453.8 370.3)"/><ellipse cx="453.8" cy="370.3" rx="10.3" ry="19.3" fill="none" stroke="#1e1e1e" stroke-width="0.9" transform="rotate(12 453.8 370.3)"/><ellipse cx="454.4" cy="371.6" rx="6.6" ry="12.0" fill="#fff" stroke="#1e1e1e" stroke-width="1.2" transform="rotate(12 454.4 371.6)"/><ellipse cx="454.6" cy="371.8" rx="4.8" ry="9.8" fill="#fff" stroke="#1e1e1e" stroke-width="1.2" transform="rotate(12 454.6 371.8)"/><path d="M380.5,351 L386.5,353 L386,361.8 L379.5,359.8 Z" fill="#fff" stroke="#1e1e1e" stroke-width="1.1" /><ellipse cx="386.5" cy="357.4" rx="2.0" ry="4.3" fill="#333" stroke="#1e1e1e" stroke-width="1.0" transform="rotate(15 386.5 357.4)"/><ellipse cx="380.0" cy="355.4" rx="2.0" ry="4.3" fill="#fff" stroke="#1e1e1e" stroke-width="1.2" transform="rotate(15 380 355.4)"/><ellipse cx="416.5" cy="417.5" rx="6.5" ry="7.8" fill="#fff" stroke="#1e1e1e" stroke-width="1.3" transform="rotate(10 416.5 417.5)"/><ellipse cx="413.0" cy="415.0" rx="7.0" ry="7.6" fill="#fff" stroke="#1e1e1e" stroke-width="1.4" transform="rotate(10 413 415)"/><ellipse cx="413.0" cy="415.0" rx="3.2" ry="3.5" fill="#222" stroke="#1e1e1e" stroke-width="0.8" transform="rotate(10 413 415)"/><ellipse cx="413.0" cy="415.0" rx="1.3" ry="1.5" fill="#777" stroke="#1e1e1e" stroke-width="0.3"/><ellipse cx="436.8" cy="400.6" rx="1.9" ry="3.9" fill="#fff" stroke="#1e1e1e" stroke-width="1.4" transform="rotate(33 436.8 400.6)"/><ellipse cx="440.0" cy="402.6" rx="1.9" ry="3.9" fill="#fff" stroke="#1e1e1e" stroke-width="1.4" transform="rotate(33 440 402.6)"/><ellipse cx="443.2" cy="404.6" rx="1.9" ry="3.9" fill="#fff" stroke="#1e1e1e" stroke-width="1.4" transform="rotate(33 443.2 404.6)"/><ellipse cx="446.4" cy="406.6" rx="1.9" ry="3.9" fill="#fff" stroke="#1e1e1e" stroke-width="1.4" transform="rotate(33 446.4 406.6)"/><ellipse cx="436.8" cy="400.6" rx="1.0" ry="2.2" fill="#333" stroke="#1e1e1e" stroke-width="0.6" transform="rotate(33 436.8 400.6)"/><ellipse cx="454.3" cy="414.2" rx="3.8" ry="4.6" fill="#444" stroke="#1e1e1e" stroke-width="1.2" transform="rotate(20 454.3 414.2)"/><ellipse cx="454.5" cy="414.3" rx="1.8" ry="2.4" fill="#fff" stroke="#1e1e1e" stroke-width="0.6" transform="rotate(20 454.5 414.3)"/><ellipse cx="450.0" cy="268.0" rx="5.5" ry="7.5" fill="#fff" stroke="#1e1e1e" stroke-width="1.3" transform="rotate(10 450 268)"/><path d="M451.3 260.6L459.8 262.1M448.7 275.4L457.2 276.9" fill="none" stroke="#1e1e1e" stroke-width="1.3" /><path d="M451.3 260.6L459.8 262.1L457.2 276.9L448.7 275.4Z" fill="#fff" stroke="none"/><ellipse cx="458.5" cy="269.5" rx="5.5" ry="7.5" fill="#fff" stroke="#1e1e1e" stroke-width="1.3" transform="rotate(10 458.5 269.5)"/><ellipse cx="450.0" cy="268.0" rx="5.3" ry="7.3" fill="#fff" stroke="#1e1e1e" stroke-width="1.7" transform="rotate(10 450 268)"/><ellipse cx="450.0" cy="268.0" rx="3.6" ry="5.2" fill="#fff" stroke="#1e1e1e" stroke-width="1.0" transform="rotate(10 450 268)"/><ellipse cx="607.2" cy="287.2" rx="2.6" ry="3.3" fill="#444" stroke="#1e1e1e" stroke-width="1.1"/><ellipse cx="607.2" cy="287.2" rx="1.0" ry="1.4" fill="#fff" stroke="#1e1e1e" stroke-width="0.5"/><path d="M613,285.5 L618.5,285.8 L618.5,292 L613,291.8" fill="#fff" stroke="#1e1e1e" stroke-width="1.1" /><ellipse cx="613.0" cy="288.7" rx="1.6" ry="3.1" fill="#fff" stroke="#1e1e1e" stroke-width="1.0"/><ellipse cx="619.5" cy="289.0" rx="3.2" ry="4.2" fill="#fff" stroke="#1e1e1e" stroke-width="1.3"/><ellipse cx="619.7" cy="289.0" rx="1.6" ry="2.4" fill="#222" stroke="#1e1e1e" stroke-width="0.5"/><path d="M617.5 303.0L643.1 309.7M618.5 299.0L644.2 305.6" fill="none" stroke="#1e1e1e" stroke-width="1.1" /><ellipse cx="618.0" cy="301.0" rx="1.1" ry="2.1" fill="#fff" stroke="#1e1e1e" stroke-width="1.0" transform="rotate(14.470294100065887 618 301)"/><path d="M642.8 311.1L648.1 312.5L649.9 305.5L644.6 304.1Z" fill="#fff" stroke="#1e1e1e" stroke-width="1.2" /><ellipse cx="649.0" cy="309.0" rx="1.6" ry="3.6" fill="#333" stroke="#1e1e1e" stroke-width="1.2" transform="rotate(14.470294100065887 649 309)"/><ellipse cx="649.3" cy="309.1" rx="0.7" ry="1.6" fill="#111" stroke="#1e1e1e" stroke-width="0.5" transform="rotate(14.470294100065887 649.2904831971128 309.0749634057065)"/><ellipse cx="643.7" cy="307.6" rx="1.6" ry="3.6" fill="none" stroke="#1e1e1e" stroke-width="0.8" transform="rotate(14.470294100065887 643.6744747195985 307.62567089538027)"/><path d="M633.9 307.3L635.0 303.2" fill="none" stroke="#1e1e1e" stroke-width="0.7" /><path d="M623.5 318.0L649.1 324.7M624.5 314.0L650.2 320.6" fill="none" stroke="#1e1e1e" stroke-width="1.1" /><ellipse cx="624.0" cy="316.0" rx="1.1" ry="2.1" fill="#fff" stroke="#1e1e1e" stroke-width="1.0" transform="rotate(14.470294100065887 624 316)"/><path d="M648.8 326.1L654.1 327.5L655.9 320.5L650.6 319.1Z" fill="#fff" stroke="#1e1e1e" stroke-width="1.2" /><ellipse cx="655.0" cy="324.0" rx="1.6" ry="3.6" fill="#333" stroke="#1e1e1e" stroke-width="1.2" transform="rotate(14.470294100065887 655 324)"/><ellipse cx="655.3" cy="324.1" rx="0.7" ry="1.6" fill="#111" stroke="#1e1e1e" stroke-width="0.5" transform="rotate(14.470294100065887 655.2904831971128 324.0749634057065)"/><ellipse cx="649.7" cy="322.6" rx="1.6" ry="3.6" fill="none" stroke="#1e1e1e" stroke-width="0.8" transform="rotate(14.470294100065887 649.6744747195985 322.62567089538027)"/><path d="M639.9 322.3L641.0 318.2" fill="none" stroke="#1e1e1e" stroke-width="0.7" /><path d="M620.5 330.0L646.1 336.7M621.5 326.0L647.2 332.6" fill="none" stroke="#1e1e1e" stroke-width="1.1" /><ellipse cx="621.0" cy="328.0" rx="1.1" ry="2.1" fill="#fff" stroke="#1e1e1e" stroke-width="1.0" transform="rotate(14.470294100065887 621 328)"/><path d="M645.8 338.1L651.1 339.5L652.9 332.5L647.6 331.1Z" fill="#fff" stroke="#1e1e1e" stroke-width="1.2" /><ellipse cx="652.0" cy="336.0" rx="1.6" ry="3.6" fill="#333" stroke="#1e1e1e" stroke-width="1.2" transform="rotate(14.470294100065887 652 336)"/><ellipse cx="652.3" cy="336.1" rx="0.7" ry="1.6" fill="#111" stroke="#1e1e1e" stroke-width="0.5" transform="rotate(14.470294100065887 652.2904831971128 336.0749634057065)"/><ellipse cx="646.7" cy="334.6" rx="1.6" ry="3.6" fill="none" stroke="#1e1e1e" stroke-width="0.8" transform="rotate(14.470294100065887 646.6744747195985 334.62567089538027)"/><path d="M636.9 334.3L638.0 330.2" fill="none" stroke="#1e1e1e" stroke-width="0.7" /><path d="M564.5 386.0L591.2 392.7M565.5 382.0L592.2 388.6" fill="none" stroke="#1e1e1e" stroke-width="1.1" /><ellipse cx="565.0" cy="384.0" rx="1.1" ry="2.1" fill="#fff" stroke="#1e1e1e" stroke-width="1.0" transform="rotate(14.036243467926479 565 384)"/><path d="M590.8 394.2L596.1 395.5L597.9 388.5L592.5 387.2Z" fill="#fff" stroke="#1e1e1e" stroke-width="1.2" /><ellipse cx="597.0" cy="392.0" rx="1.6" ry="3.6" fill="#333" stroke="#1e1e1e" stroke-width="1.2" transform="rotate(14.036243467926479 597 392)"/><ellipse cx="597.3" cy="392.1" rx="0.7" ry="1.6" fill="#111" stroke="#1e1e1e" stroke-width="0.5" transform="rotate(14.036243467926479 597.2910427500436 392.0727606875109)"/><ellipse cx="591.7" cy="390.7" rx="1.6" ry="3.6" fill="none" stroke="#1e1e1e" stroke-width="0.8" transform="rotate(14.036243467926479 591.6642162492006 390.6660540623002)"/><path d="M581.0 390.2L582.0 386.1" fill="none" stroke="#1e1e1e" stroke-width="0.7" /><path d="M561.5 400.0L588.2 406.7M562.5 396.0L589.2 402.6" fill="none" stroke="#1e1e1e" stroke-width="1.1" /><ellipse cx="562.0" cy="398.0" rx="1.1" ry="2.1" fill="#fff" stroke="#1e1e1e" stroke-width="1.0" transform="rotate(14.036243467926479 562 398)"/><path d="M587.8 408.2L593.1 409.5L594.9 402.5L589.5 401.2Z" fill="#fff" stroke="#1e1e1e" stroke-width="1.2" /><ellipse cx="594.0" cy="406.0" rx="1.6" ry="3.6" fill="#333" stroke="#1e1e1e" stroke-width="1.2" transform="rotate(14.036243467926479 594 406)"/><ellipse cx="594.3" cy="406.1" rx="0.7" ry="1.6" fill="#111" stroke="#1e1e1e" stroke-width="0.5" transform="rotate(14.036243467926479 594.2910427500436 406.0727606875109)"/><ellipse cx="588.7" cy="404.7" rx="1.6" ry="3.6" fill="none" stroke="#1e1e1e" stroke-width="0.8" transform="rotate(14.036243467926479 588.6642162492006 404.6660540623002)"/><path d="M578.0 404.2L579.0 400.1" fill="none" stroke="#1e1e1e" stroke-width="0.7" /><path d="M539.5 407.0L565.1 413.7M540.5 403.0L566.2 409.6" fill="none" stroke="#1e1e1e" stroke-width="1.1" /><ellipse cx="540.0" cy="405.0" rx="1.1" ry="2.1" fill="#fff" stroke="#1e1e1e" stroke-width="1.0" transform="rotate(14.470294100065887 540 405)"/><path d="M564.8 415.1L570.1 416.5L571.9 409.5L566.6 408.1Z" fill="#fff" stroke="#1e1e1e" stroke-width="1.2" /><ellipse cx="571.0" cy="413.0" rx="1.6" ry="3.6" fill="#333" stroke="#1e1e1e" stroke-width="1.2" transform="rotate(14.470294100065887 571 413)"/><ellipse cx="571.3" cy="413.1" rx="0.7" ry="1.6" fill="#111" stroke="#1e1e1e" stroke-width="0.5" transform="rotate(14.470294100065887 571.2904831971128 413.0749634057065)"/><ellipse cx="565.7" cy="411.6" rx="1.6" ry="3.6" fill="none" stroke="#1e1e1e" stroke-width="0.8" transform="rotate(14.470294100065887 565.6744747195985 411.62567089538027)"/><path d="M555.9 411.3L557.0 407.2" fill="none" stroke="#1e1e1e" stroke-width="0.7" /><path d="M410.1 509.4 C411.1 508.6 413.1 508.6 414.1 509.4 L413.2 514.6 L411.0 514.6 Z" fill="#444" stroke="#1e1e1e" stroke-width="1.0" /><ellipse cx="412.1" cy="510.4" rx="1.0" ry="0.7" fill="#ddd" stroke="#1e1e1e" stroke-width="0.3"/><path d="M420.6 511.5 C421.6 510.7 423.6 510.7 424.6 511.5 L423.7 516.7 L421.5 516.7 Z" fill="#444" stroke="#1e1e1e" stroke-width="1.0" /><ellipse cx="422.6" cy="512.5" rx="1.0" ry="0.7" fill="#ddd" stroke="#1e1e1e" stroke-width="0.3"/><path d="M434.0 513.1 C435.0 512.3 437.0 512.3 438.0 513.1 L437.1 518.3 L434.9 518.3 Z" fill="#444" stroke="#1e1e1e" stroke-width="1.0" /><ellipse cx="436.0" cy="514.1" rx="1.0" ry="0.7" fill="#ddd" stroke="#1e1e1e" stroke-width="0.3"/><path d="M445.4 514.2 C446.4 513.4 448.4 513.4 449.4 514.2 L448.5 519.4 L446.3 519.4 Z" fill="#444" stroke="#1e1e1e" stroke-width="1.0" /><ellipse cx="447.4" cy="515.2" rx="1.0" ry="0.7" fill="#ddd" stroke="#1e1e1e" stroke-width="0.3"/><g transform="translate(375 490) scale(0.16260)"><path d="M168,232 L448,292 L452,306 L172,246 Z" fill="#fff" stroke="#1e1e1e" stroke-width="1.265" vector-effect="non-scaling-stroke"/><path d="M140,346 L300,372 L540,424 L546,438 L300,392 L150,358 Z" fill="#fff" stroke="#1e1e1e" stroke-width="1.15" vector-effect="non-scaling-stroke"/><path d="M460,540 L556,552 L470,722 Z" fill="#fff" stroke="#1e1e1e" stroke-width="1.38" vector-effect="non-scaling-stroke"/><path d="M470,560 L548,560 M480,700 L540,570" fill="none" stroke="#1e1e1e" stroke-width="1.4949999999999999" vector-effect="non-scaling-stroke"/><path d="M85,452 L455,538 L478,748 L98,652 Z" fill="#fff" stroke="#1e1e1e" stroke-width="1.4949999999999999" vector-effect="non-scaling-stroke"/><path d="M118,502 L432,578 L442,705 L126,640 Z" fill="#fff" stroke="#1e1e1e" stroke-width="1.38" vector-effect="non-scaling-stroke"/><path d="M95,470 L450,552 M105,640 L470,735" fill="none" stroke="#1e1e1e" stroke-width="1.4949999999999999" vector-effect="non-scaling-stroke"/><path d="M130,530 L218,526 C225,518 260,516 277,526 L310,542 L430,580" fill="none" stroke="#1e1e1e" stroke-width="1.4949999999999999" vector-effect="non-scaling-stroke"/><path d="M218,526 L146,627 M192,582 L323,608 L440,630 M362,569 L323,634 M375,572 L336,637" fill="none" stroke="#1e1e1e" stroke-width="1.4949999999999999" vector-effect="non-scaling-stroke"/><path d="M135,640 L251,654 C265,684 305,684 323,654 L440,680" fill="none" stroke="#1e1e1e" stroke-width="1.4949999999999999" vector-effect="non-scaling-stroke"/><path d="M195.5,614 a3.5,3.5 0 1,0 7,0 a3.5,3.5 0 1,0 -7,0" fill="#222" stroke="#1e1e1e" stroke-width="0.69" vector-effect="non-scaling-stroke"/><path d="M267.5,634 a3.5,3.5 0 1,0 7,0 a3.5,3.5 0 1,0 -7,0" fill="#222" stroke="#1e1e1e" stroke-width="0.69" vector-effect="non-scaling-stroke"/><path d="M345.5,654 a3.5,3.5 0 1,0 7,0 a3.5,3.5 0 1,0 -7,0" fill="#222" stroke="#1e1e1e" stroke-width="0.69" vector-effect="non-scaling-stroke"/><path d="M414.5,670 a3.5,3.5 0 1,0 7,0 a3.5,3.5 0 1,0 -7,0" fill="#222" stroke="#1e1e1e" stroke-width="0.69" vector-effect="non-scaling-stroke"/><path d="M108.5,535 a3.5,3.5 0 1,0 7,0 a3.5,3.5 0 1,0 -7,0" fill="#222" stroke="#1e1e1e" stroke-width="0.69" vector-effect="non-scaling-stroke"/><path d="M436.5,672 a3.5,3.5 0 1,0 7,0 a3.5,3.5 0 1,0 -7,0" fill="#222" stroke="#1e1e1e" stroke-width="0.69" vector-effect="non-scaling-stroke"/></g><g transform="translate(320 580) scale(0.125)"><g stroke="#1e1e1e" stroke-width="20" fill="#1e1e1e"><path d="M100,88 L600,190 L655,230 L660,590 L610,615 L90,480 L70,450 L68,120 Z"/><circle cx="172" cy="95" r="34"/><circle cx="545" cy="185" r="34"/><circle cx="62" cy="285" r="34"/><circle cx="662" cy="432" r="34"/><circle cx="180" cy="515" r="34"/><circle cx="550" cy="600" r="34"/></g><g fill="#fff"><path d="M100,88 L600,190 L655,230 L660,590 L610,615 L90,480 L70,450 L68,120 Z"/><circle cx="172" cy="95" r="34"/><circle cx="545" cy="185" r="34"/><circle cx="62" cy="285" r="34"/><circle cx="662" cy="432" r="34"/><circle cx="180" cy="515" r="34"/><circle cx="550" cy="600" r="34"/></g></g><g transform="translate(320 580) scale(0.12500)"><path d="M148,190 L580,285 L585,515 L150,415 Z" fill="#fff" stroke="#1e1e1e" stroke-width="1.4949999999999999" vector-effect="non-scaling-stroke"/><path d="M159,95 a13,13 0 1,0 26,0 a13,13 0 1,0 -26,0" fill="#fff" stroke="#1e1e1e" stroke-width="1.265" vector-effect="non-scaling-stroke"/><path d="M532,185 a13,13 0 1,0 26,0 a13,13 0 1,0 -26,0" fill="#fff" stroke="#1e1e1e" stroke-width="1.265" vector-effect="non-scaling-stroke"/><path d="M49,285 a13,13 0 1,0 26,0 a13,13 0 1,0 -26,0" fill="#fff" stroke="#1e1e1e" stroke-width="1.265" vector-effect="non-scaling-stroke"/><path d="M649,432 a13,13 0 1,0 26,0 a13,13 0 1,0 -26,0" fill="#fff" stroke="#1e1e1e" stroke-width="1.265" vector-effect="non-scaling-stroke"/><path d="M167,515 a13,13 0 1,0 26,0 a13,13 0 1,0 -26,0" fill="#fff" stroke="#1e1e1e" stroke-width="1.265" vector-effect="non-scaling-stroke"/><path d="M537,600 a13,13 0 1,0 26,0 a13,13 0 1,0 -26,0" fill="#fff" stroke="#1e1e1e" stroke-width="1.265" vector-effect="non-scaling-stroke"/><path d="M117,262 a8,8 0 1,0 16,0 a8,8 0 1,0 -16,0" fill="#fff" stroke="#1e1e1e" stroke-width="1.035" vector-effect="non-scaling-stroke"/><path d="M592,445 a8,8 0 1,0 16,0 a8,8 0 1,0 -16,0" fill="#fff" stroke="#1e1e1e" stroke-width="1.035" vector-effect="non-scaling-stroke"/></g><g transform="translate(255 620) scale(0.12500)"><path d="M120,160 L190,110 L260,95 L300,130 L440,175 L500,158 L560,200 L620,270 L650,300 L660,380 L690,440 L682,500 L680,560 L640,600 L560,640 L510,622 L340,572 L280,585 L250,545 L190,492 L120,432 L105,390 L100,310 L115,250 Z" fill="#fff" stroke="#1e1e1e" stroke-width="1.4949999999999999" vector-effect="non-scaling-stroke"/><path d="M270,150 L430,200 M260,185 L420,228" fill="none" stroke="#1e1e1e" stroke-width="1.4949999999999999" vector-effect="non-scaling-stroke"/><path d="M222,114 L244,106 L271,142 L244,178 L222,186 Z" fill="#fff" stroke="#1e1e1e" stroke-width="1.38" vector-effect="non-scaling-stroke"/><path d="M217,142 a27,36 0 1,0 54,0 a27,36 0 1,0 -54,0" fill="#fff" stroke="#1e1e1e" stroke-width="1.38" vector-effect="non-scaling-stroke"/><path d="M195,150 a27,36 0 1,0 54,0 a27,36 0 1,0 -54,0" fill="#fff" stroke="#1e1e1e" stroke-width="1.6099999999999999" vector-effect="non-scaling-stroke"/><path d="M207.15,150 a14.850000000000001,21.599999999999998 0 1,0 29.700000000000003,0 a14.850000000000001,21.599999999999998 0 1,0 -29.700000000000003,0" fill="#fff" stroke="#1e1e1e" stroke-width="1.265" vector-effect="non-scaling-stroke"/><path d="M468,176 L490,168 L518,204 L490,240 L468,248 Z" fill="#fff" stroke="#1e1e1e" stroke-width="1.38" vector-effect="non-scaling-stroke"/><path d="M462,204 a28,36 0 1,0 56,0 a28,36 0 1,0 -56,0" fill="#fff" stroke="#1e1e1e" stroke-width="1.38" vector-effect="non-scaling-stroke"/><path d="M440,212 a28,36 0 1,0 56,0 a28,36 0 1,0 -56,0" fill="#fff" stroke="#1e1e1e" stroke-width="1.6099999999999999" vector-effect="non-scaling-stroke"/><path d="M452.6,212 a15.400000000000002,21.599999999999998 0 1,0 30.800000000000004,0 a15.400000000000002,21.599999999999998 0 1,0 -30.800000000000004,0" fill="#fff" stroke="#1e1e1e" stroke-width="1.265" vector-effect="non-scaling-stroke"/><path d="M125,286 L147,278 L172,310 L147,342 L125,350 Z" fill="#fff" stroke="#1e1e1e" stroke-width="1.38" vector-effect="non-scaling-stroke"/><path d="M122,310 a25,32 0 1,0 50,0 a25,32 0 1,0 -50,0" fill="#fff" stroke="#1e1e1e" stroke-width="1.38" vector-effect="non-scaling-stroke"/><path d="M100,318 a25,32 0 1,0 50,0 a25,32 0 1,0 -50,0" fill="#fff" stroke="#1e1e1e" stroke-width="1.6099999999999999" vector-effect="non-scaling-stroke"/><path d="M111.25,318 a13.750000000000002,19.2 0 1,0 27.500000000000004,0 a13.750000000000002,19.2 0 1,0 -27.500000000000004,0" fill="#fff" stroke="#1e1e1e" stroke-width="1.265" vector-effect="non-scaling-stroke"/><path d="M627,404 L649,396 L674,430 L649,464 L627,472 Z" fill="#fff" stroke="#1e1e1e" stroke-width="1.38" vector-effect="non-scaling-stroke"/><path d="M624,430 a25,34 0 1,0 50,0 a25,34 0 1,0 -50,0" fill="#fff" stroke="#1e1e1e" stroke-width="1.38" vector-effect="non-scaling-stroke"/><path d="M602,438 a25,34 0 1,0 50,0 a25,34 0 1,0 -50,0" fill="#fff" stroke="#1e1e1e" stroke-width="1.6099999999999999" vector-effect="non-scaling-stroke"/><path d="M613.25,438 a13.750000000000002,20.4 0 1,0 27.500000000000004,0 a13.750000000000002,20.4 0 1,0 -27.500000000000004,0" fill="#fff" stroke="#1e1e1e" stroke-width="1.265" vector-effect="non-scaling-stroke"/><path d="M297,516 L319,508 L344,540 L319,572 L297,580 Z" fill="#fff" stroke="#1e1e1e" stroke-width="1.38" vector-effect="non-scaling-stroke"/><path d="M294,540 a25,32 0 1,0 50,0 a25,32 0 1,0 -50,0" fill="#fff" stroke="#1e1e1e" stroke-width="1.38" vector-effect="non-scaling-stroke"/><path d="M272,548 a25,32 0 1,0 50,0 a25,32 0 1,0 -50,0" fill="#fff" stroke="#1e1e1e" stroke-width="1.6099999999999999" vector-effect="non-scaling-stroke"/><path d="M283.25,548 a13.750000000000002,19.2 0 1,0 27.500000000000004,0 a13.750000000000002,19.2 0 1,0 -27.500000000000004,0" fill="#fff" stroke="#1e1e1e" stroke-width="1.265" vector-effect="non-scaling-stroke"/><path d="M537,576 L559,568 L584,600 L559,632 L537,640 Z" fill="#fff" stroke="#1e1e1e" stroke-width="1.38" vector-effect="non-scaling-stroke"/><path d="M534,600 a25,32 0 1,0 50,0 a25,32 0 1,0 -50,0" fill="#fff" stroke="#1e1e1e" stroke-width="1.38" vector-effect="non-scaling-stroke"/><path d="M512,608 a25,32 0 1,0 50,0 a25,32 0 1,0 -50,0" fill="#fff" stroke="#1e1e1e" stroke-width="1.6099999999999999" vector-effect="non-scaling-stroke"/><path d="M523.25,608 a13.750000000000002,19.2 0 1,0 27.500000000000004,0 a13.750000000000002,19.2 0 1,0 -27.500000000000004,0" fill="#fff" stroke="#1e1e1e" stroke-width="1.265" vector-effect="non-scaling-stroke"/><path d="M110,380 L260,250 L320,238 L420,262 L500,300 L522,360 L500,452 L440,522 L400,542 L330,532 L250,482 L180,462 L118,432 Z" fill="#fff" stroke="#1e1e1e" stroke-width="1.4949999999999999" vector-effect="non-scaling-stroke"/><path d="M118,432 L125,450 L185,480 L250,500 L330,550 L400,560 L445,540 L505,470 L530,370 L522,360" fill="none" stroke="#1e1e1e" stroke-width="1.4949999999999999" vector-effect="non-scaling-stroke"/><path d="M255,410 a95,110 -20 1,0 190,0 a95,110 -20 1,0 -190,0" fill="#fff" stroke="#1e1e1e" stroke-width="1.38" vector-effect="non-scaling-stroke"/><path d="M275,405 a75,90 -20 1,0 150,0 a75,90 -20 1,0 -150,0" fill="#fff" stroke="#1e1e1e" stroke-width="1.15" vector-effect="non-scaling-stroke"/><path d="M318,345 L360,378 L350,392 L310,360 Z" fill="#fff" stroke="#1e1e1e" stroke-width="1.38" vector-effect="non-scaling-stroke"/><path d="M370,392 L440,375 L445,392 L378,410 Z" fill="#fff" stroke="#1e1e1e" stroke-width="1.38" vector-effect="non-scaling-stroke"/><path d="M170,455 L238,432 L242,450 L176,472 Z" fill="#fff" stroke="#1e1e1e" stroke-width="1.38" vector-effect="non-scaling-stroke"/><path d="M640,290 L700,290 L730,320 L710,350 L660,355 L640,320 Z" fill="#666" stroke="#1e1e1e" stroke-width="1.265" vector-effect="non-scaling-stroke"/><path d="M560,200 L600,280 L610,400 M600,280 L640,290" fill="none" stroke="#1e1e1e" stroke-width="1.4949999999999999" vector-effect="non-scaling-stroke"/></g><g transform="translate(185 690) scale(0.14999)"><path d="M440,150 C440,110 480,92 520,60 C550,35 595,40 640,80 L700,118 C722,140 716,176 690,192 C660,210 640,242 600,242 C560,242 520,212 470,192 C446,182 440,165 440,150 Z" fill="#fff" stroke="#1e1e1e" stroke-width="1.6099999999999999" vector-effect="non-scaling-stroke"/><path d="M516,150 a62,68 0 1,0 124,0 a62,68 0 1,0 -124,0" fill="#fff" stroke="#1e1e1e" stroke-width="1.4949999999999999" vector-effect="non-scaling-stroke"/><path d="M463,150 a12,12 0 1,0 24,0 a12,12 0 1,0 -24,0" fill="#fff" stroke="#1e1e1e" stroke-width="1.265" vector-effect="non-scaling-stroke"/><path d="M673,150 a12,12 0 1,0 24,0 a12,12 0 1,0 -24,0" fill="#fff" stroke="#1e1e1e" stroke-width="1.265" vector-effect="non-scaling-stroke"/><path d="M534,70 a6,6 0 1,0 12,0 a6,6 0 1,0 -12,0" fill="#fff" stroke="#1e1e1e" stroke-width="1.15" vector-effect="non-scaling-stroke"/></g><path d="M201.0 746.8L210.8 740.3L208.7 737.2L198.9 743.7" fill="#fff" stroke="#1e1e1e" stroke-width="1.2" /><ellipse cx="209.8" cy="738.8" rx="0.9" ry="1.9" fill="#fff" stroke="#1e1e1e" stroke-width="1.1" transform="rotate(-33.59237660698378 209.75 738.75)"/><path d="M197.9 750.3L201.7 747.8L198.2 742.7L194.5 745.2Z" fill="#fff" stroke="#1e1e1e" stroke-width="1.3" /><ellipse cx="199.9" cy="745.3" rx="1.4" ry="3.1" fill="#fff" stroke="#1e1e1e" stroke-width="1.1" transform="rotate(-33.59237660698378 199.94847688761126 745.2602367536161)"/><ellipse cx="196.2" cy="747.8" rx="1.6" ry="3.1" fill="#fff" stroke="#1e1e1e" stroke-width="1.4" transform="rotate(-33.59237660698378 196.2 747.75)"/><ellipse cx="196.2" cy="747.8" rx="0.9" ry="1.7" fill="#222" stroke="#1e1e1e" stroke-width="0.5" transform="rotate(-33.59237660698378 196.2 747.75)"/><path d="M220.6 732.7L231.0 726.1L229.0 722.9L218.5 729.5" fill="#fff" stroke="#1e1e1e" stroke-width="1.2" /><ellipse cx="230.0" cy="724.5" rx="0.9" ry="1.9" fill="#fff" stroke="#1e1e1e" stroke-width="1.1" transform="rotate(-32.27564431457763 230 724.5)"/><path d="M217.4 736.1L221.2 733.7L217.9 728.5L214.1 730.9Z" fill="#fff" stroke="#1e1e1e" stroke-width="1.3" /><ellipse cx="219.6" cy="731.1" rx="1.4" ry="3.1" fill="#fff" stroke="#1e1e1e" stroke-width="1.1" transform="rotate(-32.27564431457763 219.55470006363936 731.0970315387541)"/><ellipse cx="215.8" cy="733.5" rx="1.6" ry="3.1" fill="#fff" stroke="#1e1e1e" stroke-width="1.4" transform="rotate(-32.27564431457763 215.75 733.5)"/><ellipse cx="215.8" cy="733.5" rx="0.9" ry="1.7" fill="#222" stroke="#1e1e1e" stroke-width="0.5" transform="rotate(-32.27564431457763 215.75 733.5)"/><path d="M250.5 737.8L260.3 731.3L258.2 728.2L248.4 734.7" fill="#fff" stroke="#1e1e1e" stroke-width="1.2" /><ellipse cx="259.2" cy="729.8" rx="0.9" ry="1.9" fill="#fff" stroke="#1e1e1e" stroke-width="1.1" transform="rotate(-33.69006752597979 259.25 729.75)"/><path d="M247.5 741.3L251.2 738.8L247.8 733.7L244.0 736.2Z" fill="#fff" stroke="#1e1e1e" stroke-width="1.3" /><ellipse cx="249.5" cy="736.3" rx="1.4" ry="3.1" fill="#fff" stroke="#1e1e1e" stroke-width="1.1" transform="rotate(-33.69006752597979 249.4942263245203 736.2538491169864)"/><ellipse cx="245.8" cy="738.8" rx="1.6" ry="3.1" fill="#fff" stroke="#1e1e1e" stroke-width="1.4" transform="rotate(-33.69006752597979 245.75 738.75)"/><ellipse cx="245.8" cy="738.8" rx="0.9" ry="1.7" fill="#222" stroke="#1e1e1e" stroke-width="0.5" transform="rotate(-33.69006752597979 245.75 738.75)"/><path d="M209.3 762.0L219.8 755.4L217.7 752.1L207.3 758.7" fill="#fff" stroke="#1e1e1e" stroke-width="1.2" /><ellipse cx="218.8" cy="753.8" rx="0.9" ry="1.9" fill="#fff" stroke="#1e1e1e" stroke-width="1.1" transform="rotate(-32.27564431457763 218.75 753.75)"/><path d="M206.2 765.4L210.0 763.0L206.6 757.7L202.8 760.1Z" fill="#fff" stroke="#1e1e1e" stroke-width="1.3" /><ellipse cx="208.3" cy="760.3" rx="1.4" ry="3.1" fill="#fff" stroke="#1e1e1e" stroke-width="1.1" transform="rotate(-32.27564431457763 208.30470006363936 760.3470315387541)"/><ellipse cx="204.5" cy="762.8" rx="1.6" ry="3.1" fill="#fff" stroke="#1e1e1e" stroke-width="1.4" transform="rotate(-32.27564431457763 204.5 762.75)"/><ellipse cx="204.5" cy="762.8" rx="0.9" ry="1.7" fill="#222" stroke="#1e1e1e" stroke-width="0.5" transform="rotate(-32.27564431457763 204.5 762.75)"/><path d="M238.5 768.5L249.1 761.3L246.9 758.2L236.4 765.4" fill="#fff" stroke="#1e1e1e" stroke-width="1.2" /><ellipse cx="248.0" cy="759.8" rx="0.9" ry="1.9" fill="#fff" stroke="#1e1e1e" stroke-width="1.1" transform="rotate(-34.38034472384487 248 759.75)"/><path d="M235.5 772.1L239.2 769.5L235.7 764.4L232.0 766.9Z" fill="#fff" stroke="#1e1e1e" stroke-width="1.3" /><ellipse cx="237.5" cy="767.0" rx="1.4" ry="3.1" fill="#fff" stroke="#1e1e1e" stroke-width="1.1" transform="rotate(-34.38034472384487 237.46388267562423 766.958922379836)"/><ellipse cx="233.8" cy="769.5" rx="1.6" ry="3.1" fill="#fff" stroke="#1e1e1e" stroke-width="1.4" transform="rotate(-34.38034472384487 233.75 769.5)"/><ellipse cx="233.8" cy="769.5" rx="0.9" ry="1.7" fill="#222" stroke="#1e1e1e" stroke-width="0.5" transform="rotate(-34.38034472384487 233.75 769.5)"/><path d="M258.8 758.7L267.8 752.3L265.7 749.2L256.6 755.6" fill="#fff" stroke="#1e1e1e" stroke-width="1.2" /><ellipse cx="266.8" cy="750.8" rx="0.9" ry="1.9" fill="#fff" stroke="#1e1e1e" stroke-width="1.1" transform="rotate(-35.21759296819271 266.75 750.75)"/><path d="M255.8 762.3L259.5 759.7L255.9 754.6L252.2 757.2Z" fill="#fff" stroke="#1e1e1e" stroke-width="1.3" /><ellipse cx="257.7" cy="757.2" rx="1.4" ry="3.1" fill="#fff" stroke="#1e1e1e" stroke-width="1.1" transform="rotate(-35.21759296819271 257.6763553846914 757.154925610806)"/><ellipse cx="254.0" cy="759.8" rx="1.6" ry="3.1" fill="#fff" stroke="#1e1e1e" stroke-width="1.4" transform="rotate(-35.21759296819271 254 759.75)"/><ellipse cx="254.0" cy="759.8" rx="0.9" ry="1.7" fill="#222" stroke="#1e1e1e" stroke-width="0.5" transform="rotate(-35.21759296819271 254 759.75)"/><g transform="translate(160 65) scale(0.14999)"><path d="M120,195 L300,45 L385,38 L430,45 L502,66 L496,88 L440,132 L300,112 L205,232 L168,300 L150,400 L155,500 L185,580 L230,650 L300,700 L470,640 L500,648 L492,668 L300,735 L292,760 L270,790 L225,790 L212,760 L150,690 L90,612 L52,530 L42,430 L58,340 L88,262 Z" fill="#fff" stroke="#1e1e1e" stroke-width="1.6099999999999999" vector-effect="non-scaling-stroke"/><path d="M130,232 L300,110 M300,45 L300,112 M385,38 L380,100 L440,132 M430,45 L440,100 L496,88" fill="none" stroke="#1e1e1e" stroke-width="1.4949999999999999" vector-effect="non-scaling-stroke"/><path d="M395,75 a22,28 0 1,0 44,0 a22,28 0 1,0 -44,0" fill="#fff" stroke="#1e1e1e" stroke-width="1.265" vector-effect="non-scaling-stroke"/><path d="M462,80 a12,9 0 1,0 24,0 a12,9 0 1,0 -24,0" fill="#fff" stroke="#1e1e1e" stroke-width="1.15" vector-effect="non-scaling-stroke"/><path d="M165,230 L140,300 L125,380 L120,470 L140,560 L180,640 L230,700 L290,742" fill="none" stroke="#1e1e1e" stroke-width="1.4949999999999999" vector-effect="non-scaling-stroke"/><path d="M200,232 L172,300 L152,400 L157,500 L187,580 L232,650 L292,702" fill="none" stroke="#1e1e1e" stroke-width="1.4949999999999999" vector-effect="non-scaling-stroke"/><path d="M215,225 L190,300 L172,400 L176,500 L202,575 L245,640" fill="none" stroke="#1e1e1e" stroke-width="1.4949999999999999" vector-effect="non-scaling-stroke"/><path d="M290,160 C278,260 272,360 285,450 C292,510 300,550 318,585" fill="none" stroke="#1e1e1e" stroke-width="1.4949999999999999" vector-effect="non-scaling-stroke"/><path d="M160,490 C200,500 260,515 300,530 M180,560 L300,580 L480,632 M200,600 L290,620" fill="none" stroke="#1e1e1e" stroke-width="1.4949999999999999" vector-effect="non-scaling-stroke"/><path d="M140,228 a25,28 0 1,0 50,0 a25,28 0 1,0 -50,0" fill="#fff" stroke="#1e1e1e" stroke-width="1.38" vector-effect="non-scaling-stroke"/><path d="M155,230 a9,11 0 1,0 18,0 a9,11 0 1,0 -18,0" fill="#fff" stroke="#1e1e1e" stroke-width="1.15" vector-effect="non-scaling-stroke"/><path d="M222,755 a14,14 0 1,0 28,0 a14,14 0 1,0 -28,0" fill="#fff" stroke="#1e1e1e" stroke-width="1.265" vector-effect="non-scaling-stroke"/><path d="M63,330 a12,22 0 1,0 24,0 a12,22 0 1,0 -24,0" fill="#333" stroke="#1e1e1e" stroke-width="0.9199999999999999" vector-effect="non-scaling-stroke"/><path d="M58,400 a10,24 0 1,0 20,0 a10,24 0 1,0 -20,0" fill="#333" stroke="#1e1e1e" stroke-width="0.9199999999999999" vector-effect="non-scaling-stroke"/><path d="M56,470 a10,22 0 1,0 20,0 a10,22 0 1,0 -20,0" fill="#333" stroke="#1e1e1e" stroke-width="0.9199999999999999" vector-effect="non-scaling-stroke"/><path d="M66,540 a12,20 0 1,0 24,0 a12,20 0 1,0 -24,0" fill="#333" stroke="#1e1e1e" stroke-width="0.9199999999999999" vector-effect="non-scaling-stroke"/><path d="M88,600 a12,16 0 1,0 24,0 a12,16 0 1,0 -24,0" fill="#333" stroke="#1e1e1e" stroke-width="0.9199999999999999" vector-effect="non-scaling-stroke"/><path d="M210,600 L250,590 L270,620 L240,650 L215,640 Z" fill="#444" stroke="#1e1e1e" stroke-width="0.9199999999999999" vector-effect="non-scaling-stroke"/><path d="M260,610 L300,600 L330,640 L280,660 Z" fill="#777" stroke="#1e1e1e" stroke-width="0.9199999999999999" vector-effect="non-scaling-stroke"/><path d="M230,580 L350,620 L420,640 M240,660 L320,690 L400,670 M270,560 L290,600 M200,290 L195,350 L200,420 L210,480" fill="none" stroke="#1e1e1e" stroke-width="1.4949999999999999" vector-effect="non-scaling-stroke"/><path d="M100,280 C85,330 80,400 85,470 C92,540 110,590 140,640 L150,632 C122,585 105,535 100,470 C96,400 100,330 115,285 Z" fill="#555" stroke="#1e1e1e" stroke-width="0.9199999999999999" vector-effect="non-scaling-stroke"/><path d="M240,140 L300,120 L420,128 M250,160 L300,140 L400,145 M180,250 L200,232 M120,200 L160,235" fill="none" stroke="#1e1e1e" stroke-width="1.4949999999999999" vector-effect="non-scaling-stroke"/><path d="M300,60 L385,52 L380,98 L300,110 Z" fill="#fff" stroke="#1e1e1e" stroke-width="1.38" vector-effect="non-scaling-stroke"/><path d="M310,75 L380,70 M312,90 L380,85" fill="none" stroke="#1e1e1e" stroke-width="1.4949999999999999" vector-effect="non-scaling-stroke"/></g></g>
<g stroke="#3a3a3a" stroke-width="1.2"><line x1="184.5" y1="14.5" x2="184.0" y2="47.0"/><path d="M183.8 56.0L181.4 47.0L186.6 47.0Z" fill="#2a2a2a" stroke="none"/><line x1="282.5" y1="36.0" x2="244.0" y2="66.9"/><path d="M237.0 72.5L242.4 64.8L245.6 68.9Z" fill="#2a2a2a" stroke="none"/><line x1="415.0" y1="91.0" x2="373.2" y2="122.1"/><path d="M366.0 127.5L371.7 120.0L374.8 124.2Z" fill="#2a2a2a" stroke="none"/><line x1="411.0" y1="137.0" x2="372.0" y2="156.9"/><path d="M364.0 161.0L370.8 154.6L373.2 159.2Z" fill="#2a2a2a" stroke="none"/><line x1="289.0" y1="172.5" x2="294.0" y2="195.2"/><path d="M296.0 204.0L291.5 195.8L296.6 194.7Z" fill="#2a2a2a" stroke="none"/><line x1="271.0" y1="182.5" x2="284.2" y2="248.7"/><path d="M286.0 257.5L281.7 249.2L286.8 248.2Z" fill="#2a2a2a" stroke="none"/><line x1="231.0" y1="196.0" x2="235.6" y2="212.3"/><path d="M238.0 221.0L233.1 213.0L238.1 211.6Z" fill="#2a2a2a" stroke="none"/><line x1="153.0" y1="259.5" x2="154.4" y2="280.0"/><path d="M155.0 289.0L151.8 280.2L157.0 279.8Z" fill="#2a2a2a" stroke="none"/><line x1="172.5" y1="242.5" x2="166.3" y2="283.6"/><path d="M165.0 292.5L163.8 283.2L168.9 284.0Z" fill="#2a2a2a" stroke="none"/><line x1="186.0" y1="224.0" x2="174.2" y2="287.2"/><path d="M172.5 296.0L171.6 286.7L176.7 287.6Z" fill="#2a2a2a" stroke="none"/><line x1="186.0" y1="366.0" x2="189.7" y2="326.5"/><path d="M190.5 317.5L192.3 326.7L187.1 326.2Z" fill="#2a2a2a" stroke="none"/><line x1="432.5" y1="200.0" x2="429.7" y2="236.6"/><path d="M429.0 245.6L427.1 236.4L432.3 236.8Z" fill="#2a2a2a" stroke="none"/><line x1="469.0" y1="221.0" x2="462.5" y2="250.7"/><path d="M460.6 259.5L460.0 250.2L465.1 251.3Z" fill="#2a2a2a" stroke="none"/><line x1="478.0" y1="184.0" x2="494.4" y2="238.9"/><path d="M497.0 247.5L491.9 239.6L496.9 238.1Z" fill="#2a2a2a" stroke="none"/><line x1="605.0" y1="172.5" x2="566.9" y2="192.8"/><path d="M559.0 197.0L565.7 190.5L568.2 195.1Z" fill="#2a2a2a" stroke="none"/><line x1="600.5" y1="216.7" x2="606.1" y2="271.5"/><path d="M607.0 280.5L603.5 271.8L608.7 271.3Z" fill="#2a2a2a" stroke="none"/><line x1="642.5" y1="232.5" x2="624.5" y2="275.7"/><path d="M621.0 284.0L622.1 274.7L626.9 276.7Z" fill="#2a2a2a" stroke="none"/><line x1="235.0" y1="400.0" x2="232.4" y2="338.5"/><path d="M232.0 329.5L235.0 338.4L229.8 338.6Z" fill="#2a2a2a" stroke="none"/><line x1="343.0" y1="413.0" x2="376.6" y2="368.2"/><path d="M382.0 361.0L378.7 369.8L374.5 366.6Z" fill="#2a2a2a" stroke="none"/><line x1="352.0" y1="447.0" x2="397.7" y2="384.3"/><path d="M403.0 377.0L399.8 385.8L395.6 382.7Z" fill="#2a2a2a" stroke="none"/><line x1="407.0" y1="447.5" x2="409.4" y2="433.9"/><path d="M411.0 425.0L412.0 434.3L406.9 433.4Z" fill="#2a2a2a" stroke="none"/><line x1="448.7" y1="452.5" x2="444.3" y2="422.6"/><path d="M443.0 413.7L446.9 422.2L441.7 423.0Z" fill="#2a2a2a" stroke="none"/><line x1="480.0" y1="452.5" x2="460.7" y2="421.4"/><path d="M456.0 413.7L462.9 420.0L458.5 422.7Z" fill="#2a2a2a" stroke="none"/><line x1="534.5" y1="452.5" x2="542.2" y2="420.3"/><path d="M544.3 411.5L544.7 420.9L539.7 419.6Z" fill="#2a2a2a" stroke="none"/><line x1="442.5" y1="490.0" x2="438.3" y2="506.3"/><path d="M436.0 515.0L435.7 505.6L440.8 506.9Z" fill="#2a2a2a" stroke="none"/><line x1="387.0" y1="506.0" x2="401.3" y2="521.0"/><path d="M407.5 527.5L399.4 522.8L403.2 519.2Z" fill="#2a2a2a" stroke="none"/><line x1="474.5" y1="522.0" x2="456.2" y2="547.7"/><path d="M451.0 555.0L454.1 546.2L458.3 549.2Z" fill="#2a2a2a" stroke="none"/><line x1="452.5" y1="647.5" x2="438.5" y2="614.3"/><path d="M435.0 606.0L440.9 613.3L436.1 615.3Z" fill="#2a2a2a" stroke="none"/><line x1="425.5" y1="686.0" x2="400.4" y2="661.3"/><path d="M394.0 655.0L402.2 659.5L398.6 663.2Z" fill="#2a2a2a" stroke="none"/><line x1="362.5" y1="735.0" x2="349.4" y2="711.6"/><path d="M345.0 703.7L351.7 710.3L347.1 712.8Z" fill="#2a2a2a" stroke="none"/><line x1="307.0" y1="602.5" x2="305.8" y2="644.7"/><path d="M305.5 653.7L303.2 644.6L308.4 644.8Z" fill="#2a2a2a" stroke="none"/><line x1="317.0" y1="765.5" x2="289.1" y2="730.5"/><path d="M283.5 723.5L291.1 728.9L287.1 732.2Z" fill="#2a2a2a" stroke="none"/><line x1="270.0" y1="785.0" x2="266.2" y2="765.8"/><path d="M264.4 757.0L268.7 765.3L263.6 766.3Z" fill="#2a2a2a" stroke="none"/></g>
<g font-size="10.6" fill="#3a3a3a" text-anchor="middle"><text x="185.8" y="11.8">127</text><text x="290.8" y="33.8">129</text><text x="422.8" y="87.8">108</text><text x="417.3" y="134.3">109</text><text x="475.8" y="182.3">113</text><text x="438.3" y="198.3">111</text><text x="616.0" y="170.3">109A</text><text x="291.1" y="168.8">106</text><text x="271.1" y="179.8">107</text><text x="226.8" y="192.3">106</text><text x="245.8" y="192.3">A</text><text x="154.8" y="256.8">103</text><text x="173.8" y="238.8">104</text><text x="190.8" y="219.8">105</text><text x="189.1" y="379.3">118</text><text x="467.3" y="219.3">112</text><text x="603.8" y="214.3">114</text><text x="647.8" y="227.8">115</text><text x="237.1" y="412.8">119</text><text x="333.3" y="423.8">111</text><text x="341.8" y="458.3">120</text><text x="389.8" y="504.8">133</text><text x="311.1" y="600.8">135</text><text x="405.8" y="456.3">121</text><text x="449.3" y="465.3">122</text><text x="482.8" y="465.3">123</text><text x="532.8" y="463.8">124</text><text x="442.8" y="487.8">134</text><text x="484.6" y="519.3">132</text><text x="456.8" y="657.3">131</text><text x="434.1" y="696.8">130</text><text x="375.3" y="750.3">128</text><text x="320.8" y="777.3">126</text><text x="278.3" y="796.3">125</text></g>
</svg></body></html>
